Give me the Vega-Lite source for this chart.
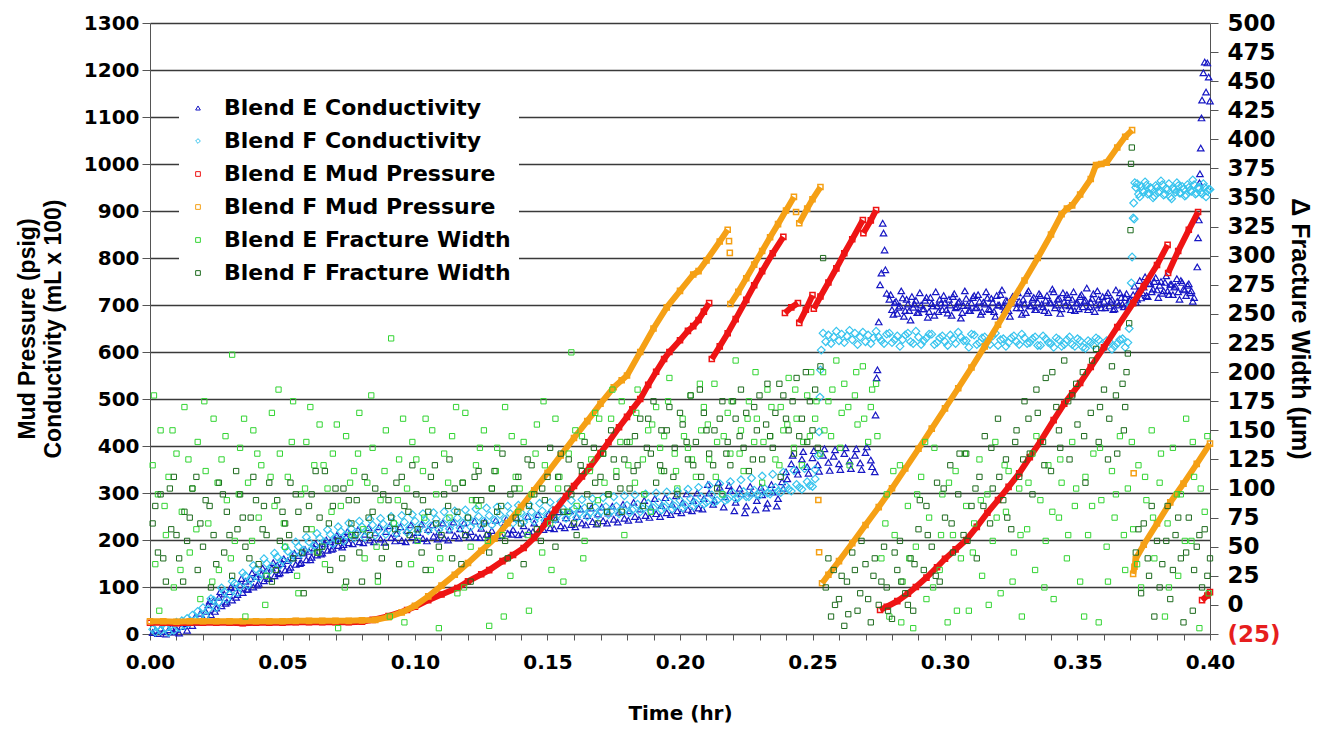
{
  "$schema": "https://vega.github.io/schema/vega-lite/v6.json",
  "width": 1060,
  "height": 611,
  "autosize": "none",
  "padding": {"left": 150, "top": 23, "right": 122, "bottom": 95},
  "background": "white",
  "config": {
    "view": {"stroke": null},
    "point": {"opacity": 1},
    "axis": {
      "labelFont": "DejaVu Sans",
      "labelFontWeight": "bold",
      "labelFontSize": 20,
      "labelColor": "black",
      "titleColor": "black",
      "domainColor": "#555555",
      "tickColor": "#555555",
      "labelOverlap": false,
      "labelBound": false,
      "labelFlush": false
    },
    "legend": {
      "orient": "none",
      "legendX": 29,
      "legendY": 66,
      "fillColor": "white",
      "padding": 8,
      "labelFont": "DejaVu Sans",
      "labelFontWeight": "bold",
      "labelFontSize": 22,
      "labelColor": "black",
      "labelLimit": 400,
      "labelOffset": 15,
      "rowPadding": 11,
      "symbolSize": 22,
      "symbolStrokeWidth": 1,
      "symbolFillColor": "transparent",
      "symbolOpacity": 1
    }
  },
  "datasets": {
    "ec": [
      {"s":"EC","t":0.001,"v":3},{"s":"EC","t":0.002,"v":8},{"s":"EC","t":0.003,"v":1},{"s":"EC","t":0.004,"v":12},{"s":"EC","t":0.005,"v":5},{"s":"EC","t":0.006,"v":0},{"s":"EC","t":0.007,"v":9},{"s":"EC","t":0.008,"v":14},{"s":"EC","t":0.009,"v":4},{"s":"EC","t":0.010,"v":10},{"s":"EC","t":0.011,"v":2},{"s":"EC","t":0.012,"v":16},
      {"s":"EC","t":0.013,"v":22},{"s":"EC","t":0.014,"v":8},{"s":"EC","t":0.015,"v":30},{"s":"EC","t":0.016,"v":18},{"s":"EC","t":0.017,"v":36},{"s":"EC","t":0.018,"v":25},{"s":"EC","t":0.019,"v":44},{"s":"EC","t":0.020,"v":33},
      {"s":"EC","t":0.021,"v":48},{"s":"EC","t":0.022,"v":62},{"s":"EC","t":0.023,"v":41},{"s":"EC","t":0.024,"v":70},{"s":"EC","t":0.025,"v":55},{"s":"EC","t":0.026,"v":78},{"s":"EC","t":0.027,"v":60},{"s":"EC","t":0.028,"v":85},{"s":"EC","t":0.029,"v":68},{"s":"EC","t":0.030,"v":90},{"s":"EC","t":0.031,"v":72},{"s":"EC","t":0.032,"v":98},{"s":"EC","t":0.033,"v":84},{"s":"EC","t":0.034,"v":104},{"s":"EC","t":0.035,"v":88},{"s":"EC","t":0.036,"v":112},{"s":"EC","t":0.037,"v":95},{"s":"EC","t":0.038,"v":118},{"s":"EC","t":0.039,"v":100},{"s":"EC","t":0.040,"v":122},{"s":"EC","t":0.041,"v":108},{"s":"EC","t":0.042,"v":127},{"s":"EC","t":0.043,"v":113},{"s":"EC","t":0.044,"v":135},{"s":"EC","t":0.045,"v":118},{"s":"EC","t":0.046,"v":140},{"s":"EC","t":0.047,"v":124},{"s":"EC","t":0.048,"v":146},{"s":"EC","t":0.049,"v":130},{"s":"EC","t":0.050,"v":150},{"s":"EC","t":0.051,"v":136},{"s":"EC","t":0.052,"v":156},{"s":"EC","t":0.053,"v":142},{"s":"EC","t":0.054,"v":162},{"s":"EC","t":0.055,"v":148},{"s":"EC","t":0.056,"v":167},{"s":"EC","t":0.057,"v":152},{"s":"EC","t":0.058,"v":172},{"s":"EC","t":0.059,"v":158},{"s":"EC","t":0.060,"v":176},{"s":"EC","t":0.061,"v":163},{"s":"EC","t":0.062,"v":183},{"s":"EC","t":0.063,"v":168},{"s":"EC","t":0.064,"v":186},{"s":"EC","t":0.065,"v":172},{"s":"EC","t":0.066,"v":192},{"s":"EC","t":0.067,"v":178},{"s":"EC","t":0.068,"v":196},{"s":"EC","t":0.069,"v":182},{"s":"EC","t":0.070,"v":200},{"s":"EC","t":0.071,"v":188},{"s":"EC","t":0.072,"v":203},{"s":"EC","t":0.073,"v":190},{"s":"EC","t":0.074,"v":206},{"s":"EC","t":0.075,"v":194},
      {"s":"EC","t":0.077,"v":210},{"s":"EC","t":0.079,"v":196},{"s":"EC","t":0.081,"v":212},{"s":"EC","t":0.083,"v":200},{"s":"EC","t":0.085,"v":215},{"s":"EC","t":0.087,"v":202},{"s":"EC","t":0.089,"v":218},{"s":"EC","t":0.091,"v":205},{"s":"EC","t":0.093,"v":214},{"s":"EC","t":0.095,"v":199},{"s":"EC","t":0.097,"v":220},{"s":"EC","t":0.099,"v":207},{"s":"EC","t":0.101,"v":216},{"s":"EC","t":0.103,"v":203},{"s":"EC","t":0.105,"v":222},{"s":"EC","t":0.107,"v":208},{"s":"EC","t":0.109,"v":217},{"s":"EC","t":0.111,"v":204},{"s":"EC","t":0.113,"v":221},{"s":"EC","t":0.115,"v":209},{"s":"EC","t":0.117,"v":224},{"s":"EC","t":0.119,"v":211},{"s":"EC","t":0.121,"v":218},{"s":"EC","t":0.123,"v":206},{"s":"EC","t":0.125,"v":225},{"s":"EC","t":0.127,"v":212},{"s":"EC","t":0.129,"v":220},{"s":"EC","t":0.131,"v":209},{"s":"EC","t":0.133,"v":227},{"s":"EC","t":0.135,"v":214},{"s":"EC","t":0.137,"v":222},{"s":"EC","t":0.139,"v":211},
      {"s":"EC","t":0.141,"v":230},{"s":"EC","t":0.143,"v":218},{"s":"EC","t":0.145,"v":236},{"s":"EC","t":0.147,"v":222},{"s":"EC","t":0.149,"v":240},{"s":"EC","t":0.151,"v":226},{"s":"EC","t":0.153,"v":244},{"s":"EC","t":0.155,"v":230},{"s":"EC","t":0.157,"v":247},{"s":"EC","t":0.159,"v":233},{"s":"EC","t":0.161,"v":250},{"s":"EC","t":0.163,"v":236},{"s":"EC","t":0.165,"v":252},{"s":"EC","t":0.167,"v":239},{"s":"EC","t":0.169,"v":255},{"s":"EC","t":0.171,"v":241},{"s":"EC","t":0.173,"v":257},{"s":"EC","t":0.175,"v":244},{"s":"EC","t":0.177,"v":259},{"s":"EC","t":0.179,"v":246},
      {"s":"EC","t":0.181,"v":262},{"s":"EC","t":0.183,"v":250},{"s":"EC","t":0.185,"v":266},{"s":"EC","t":0.187,"v":252},{"s":"EC","t":0.189,"v":270},{"s":"EC","t":0.191,"v":256},{"s":"EC","t":0.193,"v":273},{"s":"EC","t":0.195,"v":258},{"s":"EC","t":0.197,"v":276},{"s":"EC","t":0.199,"v":262},{"s":"EC","t":0.201,"v":280},{"s":"EC","t":0.203,"v":265},{"s":"EC","t":0.205,"v":284},{"s":"EC","t":0.207,"v":268},{"s":"EC","t":0.209,"v":288},
      {"s":"EC","t":0.211,"v":300},{"s":"EC","t":0.213,"v":285},{"s":"EC","t":0.215,"v":312},{"s":"EC","t":0.217,"v":292},{"s":"EC","t":0.219,"v":305},{"s":"EC","t":0.221,"v":280},{"s":"EC","t":0.223,"v":298},{"s":"EC","t":0.225,"v":272},{"s":"EC","t":0.227,"v":300},{"s":"EC","t":0.229,"v":284},{"s":"EC","t":0.231,"v":296},{"s":"EC","t":0.233,"v":278},{"s":"EC","t":0.235,"v":302},{"s":"EC","t":0.237,"v":288},{"s":"EC","t":0.239,"v":310},{"s":"EC","t":0.240,"v":345},{"s":"EC","t":0.242,"v":362},{"s":"EC","t":0.244,"v":350},{"s":"EC","t":0.246,"v":372},{"s":"EC","t":0.248,"v":356},{"s":"EC","t":0.250,"v":375},{"s":"EC","t":0.252,"v":360},{"s":"EC","t":0.254,"v":380},{"s":"EC","t":0.256,"v":365},{"s":"EC","t":0.258,"v":378},{"s":"EC","t":0.260,"v":362},{"s":"EC","t":0.262,"v":384},{"s":"EC","t":0.264,"v":368},{"s":"EC","t":0.266,"v":380},{"s":"EC","t":0.268,"v":364},{"s":"EC","t":0.270,"v":386},{"s":"EC","t":0.272,"v":370},
      {"s":"EC","t":0.2735,"v":345},{"s":"EC","t":0.2738,"v":466},{"s":"EC","t":0.2742,"v":545},{"s":"EC","t":0.2745,"v":562},{"s":"EC","t":0.275,"v":664},{"s":"EC","t":0.2755,"v":743},{"s":"EC","t":0.276,"v":768},{"s":"EC","t":0.2765,"v":874},{"s":"EC","t":0.2768,"v":853},{"s":"EC","t":0.2772,"v":817},{"s":"EC","t":0.2775,"v":775},{"s":"EC","t":0.278,"v":725},
      {"s":"EC","t":0.279,"v":712},{"s":"EC","t":0.280,"v":690},{"s":"EC","t":0.281,"v":705},{"s":"EC","t":0.282,"v":682},{"s":"EC","t":0.283,"v":698},{"s":"EC","t":0.284,"v":715},{"s":"EC","t":0.285,"v":688},{"s":"EC","t":0.286,"v":702},{"s":"EC","t":0.287,"v":668},{"s":"EC","t":0.288,"v":695},{"s":"EC","t":0.289,"v":710},{"s":"EC","t":0.290,"v":684},{"s":"EC","t":0.291,"v":700},{"s":"EC","t":0.292,"v":692},{"s":"EC","t":0.293,"v":716},{"s":"EC","t":0.294,"v":686},{"s":"EC","t":0.295,"v":703},{"s":"EC","t":0.296,"v":678},{"s":"EC","t":0.297,"v":698},{"s":"EC","t":0.298,"v":712},{"s":"EC","t":0.299,"v":690},{"s":"EC","t":0.300,"v":705},{"s":"EC","t":0.301,"v":683},{"s":"EC","t":0.302,"v":700},{"s":"EC","t":0.303,"v":718},{"s":"EC","t":0.304,"v":694},{"s":"EC","t":0.305,"v":706},{"s":"EC","t":0.306,"v":672},{"s":"EC","t":0.307,"v":699},{"s":"EC","t":0.308,"v":714},{"s":"EC","t":0.309,"v":688},{"s":"EC","t":0.310,"v":704},{"s":"EC","t":0.311,"v":720},{"s":"EC","t":0.312,"v":695},{"s":"EC","t":0.313,"v":708},{"s":"EC","t":0.314,"v":686},{"s":"EC","t":0.315,"v":702},{"s":"EC","t":0.316,"v":715},{"s":"EC","t":0.317,"v":690},{"s":"EC","t":0.318,"v":706},{"s":"EC","t":0.319,"v":676},{"s":"EC","t":0.320,"v":700},{"s":"EC","t":0.321,"v":722},{"s":"EC","t":0.322,"v":697},{"s":"EC","t":0.323,"v":710},{"s":"EC","t":0.324,"v":688},{"s":"EC","t":0.325,"v":705},{"s":"EC","t":0.326,"v":718},{"s":"EC","t":0.327,"v":694},{"s":"EC","t":0.328,"v":708},{"s":"EC","t":0.329,"v":680},{"s":"EC","t":0.330,"v":702},{"s":"EC","t":0.331,"v":725},{"s":"EC","t":0.332,"v":698},{"s":"EC","t":0.333,"v":712},{"s":"EC","t":0.334,"v":690},{"s":"EC","t":0.335,"v":706},{"s":"EC","t":0.336,"v":720},{"s":"EC","t":0.337,"v":696},{"s":"EC","t":0.338,"v":710},{"s":"EC","t":0.339,"v":684},{"s":"EC","t":0.340,"v":704},{"s":"EC","t":0.341,"v":728},{"s":"EC","t":0.342,"v":700},{"s":"EC","t":0.343,"v":714},{"s":"EC","t":0.344,"v":692},{"s":"EC","t":0.345,"v":708},{"s":"EC","t":0.346,"v":722},{"s":"EC","t":0.347,"v":698},{"s":"EC","t":0.348,"v":712},{"s":"EC","t":0.349,"v":688},{"s":"EC","t":0.350,"v":705},{"s":"EC","t":0.351,"v":718},{"s":"EC","t":0.352,"v":696},{"s":"EC","t":0.353,"v":710},{"s":"EC","t":0.354,"v":690},{"s":"EC","t":0.355,"v":706},{"s":"EC","t":0.356,"v":724},{"s":"EC","t":0.357,"v":700},{"s":"EC","t":0.358,"v":712},{"s":"EC","t":0.359,"v":694},{"s":"EC","t":0.360,"v":708},{"s":"EC","t":0.361,"v":720},{"s":"EC","t":0.362,"v":698},{"s":"EC","t":0.363,"v":712},{"s":"EC","t":0.364,"v":692},{"s":"EC","t":0.365,"v":708},{"s":"EC","t":0.366,"v":726},{"s":"EC","t":0.367,"v":702},{"s":"EC","t":0.368,"v":716},{"s":"EC","t":0.369,"v":698},{"s":"EC","t":0.370,"v":712},
      {"s":"EC","t":0.371,"v":722},{"s":"EC","t":0.372,"v":706},{"s":"EC","t":0.373,"v":730},{"s":"EC","t":0.374,"v":715},{"s":"EC","t":0.375,"v":738},{"s":"EC","t":0.376,"v":720},{"s":"EC","t":0.377,"v":745},{"s":"EC","t":0.378,"v":728},{"s":"EC","t":0.379,"v":750},{"s":"EC","t":0.380,"v":732},{"s":"EC","t":0.381,"v":742},{"s":"EC","t":0.382,"v":725},{"s":"EC","t":0.383,"v":748},{"s":"EC","t":0.384,"v":730},{"s":"EC","t":0.385,"v":744},{"s":"EC","t":0.386,"v":722},{"s":"EC","t":0.387,"v":740},{"s":"EC","t":0.388,"v":728},{"s":"EC","t":0.389,"v":752},{"s":"EC","t":0.390,"v":734},{"s":"EC","t":0.391,"v":720},{"s":"EC","t":0.392,"v":745},{"s":"EC","t":0.393,"v":730},{"s":"EC","t":0.394,"v":716},
      {"s":"EC","t":0.3952,"v":781},{"s":"EC","t":0.3955,"v":843},{"s":"EC","t":0.3958,"v":881},{"s":"EC","t":0.396,"v":960},{"s":"EC","t":0.3962,"v":979},{"s":"EC","t":0.3965,"v":1034},{"s":"EC","t":0.3968,"v":1098},{"s":"EC","t":0.397,"v":1136},{"s":"EC","t":0.3975,"v":1194},{"s":"EC","t":0.398,"v":1217},{"s":"EC","t":0.3985,"v":1153},{"s":"EC","t":0.399,"v":1215},{"s":"EC","t":0.3995,"v":1185},{"s":"EC","t":0.400,"v":1134},
      {"s":"EC","t":0.0205,"v":30},{"s":"EC","t":0.0225,"v":70},{"s":"EC","t":0.0245,"v":48},{"s":"EC","t":0.0265,"v":90},{"s":"EC","t":0.0285,"v":65},{"s":"EC","t":0.0305,"v":100},{"s":"EC","t":0.0325,"v":78},{"s":"EC","t":0.0345,"v":118},{"s":"EC","t":0.0365,"v":95},{"s":"EC","t":0.0385,"v":130},{"s":"EC","t":0.0405,"v":104},{"s":"EC","t":0.0425,"v":140},{"s":"EC","t":0.0445,"v":118},{"s":"EC","t":0.0465,"v":152},{"s":"EC","t":0.0485,"v":128},{"s":"EC","t":0.0505,"v":160},{"s":"EC","t":0.0525,"v":137},{"s":"EC","t":0.0545,"v":172},{"s":"EC","t":0.0565,"v":150},{"s":"EC","t":0.0585,"v":180},{"s":"EC","t":0.0605,"v":158},{"s":"EC","t":0.0625,"v":192},{"s":"EC","t":0.0645,"v":170},{"s":"EC","t":0.0665,"v":200},{"s":"EC","t":0.0685,"v":180},{"s":"EC","t":0.0705,"v":210},{"s":"EC","t":0.0725,"v":185},{"s":"EC","t":0.0745,"v":218},{"s":"EC","t":0.0765,"v":192},{"s":"EC","t":0.0785,"v":222},{"s":"EC","t":0.0805,"v":194},{"s":"EC","t":0.0825,"v":226},{"s":"EC","t":0.0845,"v":196},{"s":"EC","t":0.0865,"v":228},{"s":"EC","t":0.0885,"v":195},{"s":"EC","t":0.0905,"v":230},{"s":"EC","t":0.0925,"v":198},{"s":"EC","t":0.0945,"v":228},{"s":"EC","t":0.0965,"v":196},{"s":"EC","t":0.0985,"v":232},
      {"s":"EC","t":0.1005,"v":200},{"s":"EC","t":0.1025,"v":234},{"s":"EC","t":0.1045,"v":198},{"s":"EC","t":0.1065,"v":232},{"s":"EC","t":0.1085,"v":202},{"s":"EC","t":0.1105,"v":236},{"s":"EC","t":0.1125,"v":200},{"s":"EC","t":0.1145,"v":238},{"s":"EC","t":0.1165,"v":204},{"s":"EC","t":0.1185,"v":236},{"s":"EC","t":0.1205,"v":206},{"s":"EC","t":0.1225,"v":240},{"s":"EC","t":0.1245,"v":205},{"s":"EC","t":0.1265,"v":240},{"s":"EC","t":0.1285,"v":208},{"s":"EC","t":0.1305,"v":242},{"s":"EC","t":0.1325,"v":210},{"s":"EC","t":0.1345,"v":244},{"s":"EC","t":0.1365,"v":212},{"s":"EC","t":0.1385,"v":246},{"s":"EC","t":0.1405,"v":214},{"s":"EC","t":0.1425,"v":250},{"s":"EC","t":0.1445,"v":218},{"s":"EC","t":0.1465,"v":254},{"s":"EC","t":0.1485,"v":222},{"s":"EC","t":0.1505,"v":256},{"s":"EC","t":0.1525,"v":224},{"s":"EC","t":0.1545,"v":260},{"s":"EC","t":0.1565,"v":226},{"s":"EC","t":0.1585,"v":262},{"s":"EC","t":0.1605,"v":228},{"s":"EC","t":0.1625,"v":266},{"s":"EC","t":0.1645,"v":232},{"s":"EC","t":0.1665,"v":268},{"s":"EC","t":0.1685,"v":234},{"s":"EC","t":0.1705,"v":270},{"s":"EC","t":0.1725,"v":236},{"s":"EC","t":0.1745,"v":272},{"s":"EC","t":0.1765,"v":238},{"s":"EC","t":0.1785,"v":276},{"s":"EC","t":0.1805,"v":242},{"s":"EC","t":0.1825,"v":280},{"s":"EC","t":0.1845,"v":244},{"s":"EC","t":0.1865,"v":284},{"s":"EC","t":0.1885,"v":248},{"s":"EC","t":0.1905,"v":288},{"s":"EC","t":0.1925,"v":250},{"s":"EC","t":0.1945,"v":290},{"s":"EC","t":0.1965,"v":254},{"s":"EC","t":0.1985,"v":294},
      {"s":"EC","t":0.2005,"v":258},{"s":"EC","t":0.2025,"v":298},{"s":"EC","t":0.2045,"v":262},{"s":"EC","t":0.2065,"v":300},{"s":"EC","t":0.2085,"v":266},{"s":"EC","t":0.2105,"v":318},{"s":"EC","t":0.2125,"v":276},{"s":"EC","t":0.2145,"v":322},{"s":"EC","t":0.2165,"v":270},{"s":"EC","t":0.2185,"v":316},{"s":"EC","t":0.2205,"v":262},{"s":"EC","t":0.2225,"v":310},{"s":"EC","t":0.2245,"v":258},{"s":"EC","t":0.2265,"v":314},{"s":"EC","t":0.2285,"v":264},{"s":"EC","t":0.2305,"v":312},{"s":"EC","t":0.2325,"v":268},{"s":"EC","t":0.2345,"v":318},{"s":"EC","t":0.2365,"v":272},{"s":"EC","t":0.2385,"v":324},{"s":"EC","t":0.2405,"v":330},{"s":"EC","t":0.2425,"v":380},{"s":"EC","t":0.2445,"v":340},{"s":"EC","t":0.2465,"v":388},{"s":"EC","t":0.2485,"v":342},{"s":"EC","t":0.2505,"v":390},{"s":"EC","t":0.2525,"v":346},{"s":"EC","t":0.2545,"v":394},{"s":"EC","t":0.2565,"v":348},{"s":"EC","t":0.2585,"v":392},{"s":"EC","t":0.2605,"v":350},{"s":"EC","t":0.2625,"v":396},{"s":"EC","t":0.2645,"v":352},{"s":"EC","t":0.2665,"v":394},{"s":"EC","t":0.2685,"v":350},{"s":"EC","t":0.2705,"v":398},{"s":"EC","t":0.2725,"v":356},
      {"s":"EC","t":0.2795,"v":722},{"s":"EC","t":0.2805,"v":680},{"s":"EC","t":0.2815,"v":708},{"s":"EC","t":0.2825,"v":695},{"s":"EC","t":0.2835,"v":730},{"s":"EC","t":0.2845,"v":676},{"s":"EC","t":0.2855,"v":712},{"s":"EC","t":0.2865,"v":688},{"s":"EC","t":0.2875,"v":718},{"s":"EC","t":0.2885,"v":702},{"s":"EC","t":0.2895,"v":684},{"s":"EC","t":0.2905,"v":726},{"s":"EC","t":0.2915,"v":692},{"s":"EC","t":0.2925,"v":710},{"s":"EC","t":0.2935,"v":674},{"s":"EC","t":0.2945,"v":716},{"s":"EC","t":0.2955,"v":698},{"s":"EC","t":0.2965,"v":728},{"s":"EC","t":0.2975,"v":686},{"s":"EC","t":0.2985,"v":704},{"s":"EC","t":0.2995,"v":720},{"s":"EC","t":0.3005,"v":690},{"s":"EC","t":0.3015,"v":712},{"s":"EC","t":0.3025,"v":678},{"s":"EC","t":0.3035,"v":724},{"s":"EC","t":0.3045,"v":696},{"s":"EC","t":0.3055,"v":708},{"s":"EC","t":0.3065,"v":684},{"s":"EC","t":0.3075,"v":730},{"s":"EC","t":0.3085,"v":700},{"s":"EC","t":0.3095,"v":688},{"s":"EC","t":0.3105,"v":716},{"s":"EC","t":0.3115,"v":694},{"s":"EC","t":0.3125,"v":722},{"s":"EC","t":0.3135,"v":680},{"s":"EC","t":0.3145,"v":706},{"s":"EC","t":0.3155,"v":728},{"s":"EC","t":0.3165,"v":692},{"s":"EC","t":0.3175,"v":714},{"s":"EC","t":0.3185,"v":686},{"s":"EC","t":0.3195,"v":720},{"s":"EC","t":0.3205,"v":700},{"s":"EC","t":0.3215,"v":732},{"s":"EC","t":0.3225,"v":690},{"s":"EC","t":0.3235,"v":708},{"s":"EC","t":0.3245,"v":676},{"s":"EC","t":0.3255,"v":718},{"s":"EC","t":0.3265,"v":704},{"s":"EC","t":0.3275,"v":726},{"s":"EC","t":0.3285,"v":694},{"s":"EC","t":0.3295,"v":712},{"s":"EC","t":0.3305,"v":684},{"s":"EC","t":0.3315,"v":730},{"s":"EC","t":0.3325,"v":698},{"s":"EC","t":0.3335,"v":716},{"s":"EC","t":0.3345,"v":690},{"s":"EC","t":0.3355,"v":724},{"s":"EC","t":0.3365,"v":702},{"s":"EC","t":0.3375,"v":688},{"s":"EC","t":0.3385,"v":720},{"s":"EC","t":0.3395,"v":706},{"s":"EC","t":0.3405,"v":734},{"s":"EC","t":0.3415,"v":694},{"s":"EC","t":0.3425,"v":712},{"s":"EC","t":0.3435,"v":682},{"s":"EC","t":0.3445,"v":726},{"s":"EC","t":0.3455,"v":700},{"s":"EC","t":0.3465,"v":716},{"s":"EC","t":0.3475,"v":690},{"s":"EC","t":0.3485,"v":728},{"s":"EC","t":0.3495,"v":704},{"s":"EC","t":0.3505,"v":692},{"s":"EC","t":0.3515,"v":722},{"s":"EC","t":0.3525,"v":708},{"s":"EC","t":0.3535,"v":736},{"s":"EC","t":0.3545,"v":696},{"s":"EC","t":0.3555,"v":714},{"s":"EC","t":0.3565,"v":686},{"s":"EC","t":0.3575,"v":730},{"s":"EC","t":0.3585,"v":702},{"s":"EC","t":0.3595,"v":718},{"s":"EC","t":0.3605,"v":694},{"s":"EC","t":0.3615,"v":726},{"s":"EC","t":0.3625,"v":708},{"s":"EC","t":0.3635,"v":690},{"s":"EC","t":0.3645,"v":732},{"s":"EC","t":0.3655,"v":700},{"s":"EC","t":0.3665,"v":716},{"s":"EC","t":0.3675,"v":696},{"s":"EC","t":0.3685,"v":724},{"s":"EC","t":0.3695,"v":710},
      {"s":"EC","t":0.3715,"v":740},{"s":"EC","t":0.3725,"v":712},{"s":"EC","t":0.3735,"v":752},{"s":"EC","t":0.3745,"v":726},{"s":"EC","t":0.3755,"v":760},{"s":"EC","t":0.3765,"v":718},{"s":"EC","t":0.3775,"v":746},{"s":"EC","t":0.3785,"v":734},{"s":"EC","t":0.3795,"v":758},{"s":"EC","t":0.3805,"v":716},{"s":"EC","t":0.3815,"v":750},{"s":"EC","t":0.3825,"v":730},{"s":"EC","t":0.3835,"v":762},{"s":"EC","t":0.3845,"v":722},{"s":"EC","t":0.3855,"v":744},{"s":"EC","t":0.3865,"v":738},{"s":"EC","t":0.3875,"v":756},{"s":"EC","t":0.3885,"v":712},{"s":"EC","t":0.3895,"v":748},{"s":"EC","t":0.3905,"v":732},{"s":"EC","t":0.3915,"v":742},{"s":"EC","t":0.3925,"v":726},{"s":"EC","t":0.3935,"v":708}
    ],
    "fc": [
      {"s":"FC","t":0.001,"v":10},{"s":"FC","t":0.002,"v":4},{"s":"FC","t":0.003,"v":18},{"s":"FC","t":0.004,"v":7},{"s":"FC","t":0.005,"v":22},{"s":"FC","t":0.006,"v":12},{"s":"FC","t":0.007,"v":3},{"s":"FC","t":0.008,"v":19},{"s":"FC","t":0.009,"v":8},{"s":"FC","t":0.010,"v":25},{"s":"FC","t":0.011,"v":14},{"s":"FC","t":0.012,"v":28},{"s":"FC","t":0.013,"v":18},{"s":"FC","t":0.014,"v":33},{"s":"FC","t":0.015,"v":24},
      {"s":"FC","t":0.016,"v":40},{"s":"FC","t":0.017,"v":30},{"s":"FC","t":0.018,"v":48},{"s":"FC","t":0.019,"v":38},{"s":"FC","t":0.020,"v":56},{"s":"FC","t":0.022,"v":52},{"s":"FC","t":0.024,"v":72},{"s":"FC","t":0.026,"v":68},{"s":"FC","t":0.028,"v":90},{"s":"FC","t":0.030,"v":84},{"s":"FC","t":0.032,"v":108},{"s":"FC","t":0.034,"v":100},{"s":"FC","t":0.036,"v":124},{"s":"FC","t":0.038,"v":116},{"s":"FC","t":0.040,"v":138},{"s":"FC","t":0.042,"v":130},{"s":"FC","t":0.044,"v":150},{"s":"FC","t":0.046,"v":144},{"s":"FC","t":0.048,"v":164},{"s":"FC","t":0.050,"v":156},{"s":"FC","t":0.052,"v":176},{"s":"FC","t":0.054,"v":168},{"s":"FC","t":0.056,"v":186},{"s":"FC","t":0.058,"v":178},{"s":"FC","t":0.060,"v":196},{"s":"FC","t":0.062,"v":188},{"s":"FC","t":0.064,"v":204},{"s":"FC","t":0.066,"v":196},{"s":"FC","t":0.068,"v":212},{"s":"FC","t":0.070,"v":204},{"s":"FC","t":0.072,"v":218},{"s":"FC","t":0.074,"v":210},
      {"s":"FC","t":0.076,"v":224},{"s":"FC","t":0.078,"v":214},{"s":"FC","t":0.080,"v":228},{"s":"FC","t":0.082,"v":218},{"s":"FC","t":0.084,"v":232},{"s":"FC","t":0.086,"v":220},{"s":"FC","t":0.088,"v":234},{"s":"FC","t":0.090,"v":223},{"s":"FC","t":0.092,"v":236},{"s":"FC","t":0.094,"v":225},{"s":"FC","t":0.096,"v":238},{"s":"FC","t":0.098,"v":226},{"s":"FC","t":0.100,"v":240},{"s":"FC","t":0.102,"v":228},{"s":"FC","t":0.104,"v":242},{"s":"FC","t":0.106,"v":230},{"s":"FC","t":0.108,"v":244},{"s":"FC","t":0.110,"v":232},{"s":"FC","t":0.112,"v":245},{"s":"FC","t":0.114,"v":234},{"s":"FC","t":0.116,"v":247},{"s":"FC","t":0.118,"v":236},{"s":"FC","t":0.120,"v":248},{"s":"FC","t":0.122,"v":238},{"s":"FC","t":0.124,"v":250},{"s":"FC","t":0.126,"v":240},{"s":"FC","t":0.128,"v":252},{"s":"FC","t":0.130,"v":242},{"s":"FC","t":0.132,"v":254},{"s":"FC","t":0.134,"v":244},{"s":"FC","t":0.136,"v":256},{"s":"FC","t":0.138,"v":246},
      {"s":"FC","t":0.140,"v":258},{"s":"FC","t":0.142,"v":248},{"s":"FC","t":0.144,"v":260},{"s":"FC","t":0.146,"v":250},{"s":"FC","t":0.148,"v":262},{"s":"FC","t":0.150,"v":252},{"s":"FC","t":0.152,"v":264},{"s":"FC","t":0.154,"v":254},{"s":"FC","t":0.156,"v":266},{"s":"FC","t":0.158,"v":256},{"s":"FC","t":0.160,"v":267},{"s":"FC","t":0.162,"v":257},{"s":"FC","t":0.164,"v":268},{"s":"FC","t":0.166,"v":258},{"s":"FC","t":0.168,"v":270},{"s":"FC","t":0.170,"v":260},{"s":"FC","t":0.172,"v":271},{"s":"FC","t":0.174,"v":261},{"s":"FC","t":0.176,"v":272},{"s":"FC","t":0.178,"v":262},{"s":"FC","t":0.180,"v":274},{"s":"FC","t":0.182,"v":264},{"s":"FC","t":0.184,"v":276},{"s":"FC","t":0.186,"v":266},{"s":"FC","t":0.188,"v":278},{"s":"FC","t":0.190,"v":268},{"s":"FC","t":0.192,"v":280},{"s":"FC","t":0.194,"v":270},{"s":"FC","t":0.196,"v":282},{"s":"FC","t":0.198,"v":272},
      {"s":"FC","t":0.200,"v":284},{"s":"FC","t":0.202,"v":274},{"s":"FC","t":0.204,"v":288},{"s":"FC","t":0.206,"v":278},{"s":"FC","t":0.208,"v":292},{"s":"FC","t":0.210,"v":280},{"s":"FC","t":0.212,"v":296},{"s":"FC","t":0.214,"v":284},{"s":"FC","t":0.216,"v":298},{"s":"FC","t":0.218,"v":287},{"s":"FC","t":0.220,"v":300},{"s":"FC","t":0.222,"v":290},{"s":"FC","t":0.224,"v":303},{"s":"FC","t":0.226,"v":292},{"s":"FC","t":0.228,"v":306},{"s":"FC","t":0.230,"v":295},{"s":"FC","t":0.232,"v":309},{"s":"FC","t":0.234,"v":298},{"s":"FC","t":0.236,"v":312},{"s":"FC","t":0.238,"v":301},{"s":"FC","t":0.240,"v":315},{"s":"FC","t":0.242,"v":304},{"s":"FC","t":0.244,"v":318},{"s":"FC","t":0.246,"v":308},{"s":"FC","t":0.248,"v":324},{"s":"FC","t":0.250,"v":314},{"s":"FC","t":0.251,"v":330},
      {"s":"FC","t":0.2522,"v":380},{"s":"FC","t":0.2525,"v":430},{"s":"FC","t":0.2528,"v":504},{"s":"FC","t":0.253,"v":562},{"s":"FC","t":0.2533,"v":604},
      {"s":"FC","t":0.254,"v":640},{"s":"FC","t":0.255,"v":622},{"s":"FC","t":0.256,"v":636},{"s":"FC","t":0.257,"v":618},{"s":"FC","t":0.258,"v":632},{"s":"FC","t":0.259,"v":644},{"s":"FC","t":0.260,"v":624},{"s":"FC","t":0.261,"v":638},{"s":"FC","t":0.262,"v":620},{"s":"FC","t":0.263,"v":634},{"s":"FC","t":0.264,"v":646},{"s":"FC","t":0.265,"v":626},{"s":"FC","t":0.266,"v":640},{"s":"FC","t":0.267,"v":616},{"s":"FC","t":0.268,"v":632},{"s":"FC","t":0.269,"v":642},{"s":"FC","t":0.270,"v":622},{"s":"FC","t":0.271,"v":636},{"s":"FC","t":0.272,"v":618},{"s":"FC","t":0.273,"v":630},{"s":"FC","t":0.274,"v":644},{"s":"FC","t":0.276,"v":624},{"s":"FC","t":0.278,"v":638},{"s":"FC","t":0.280,"v":620},{"s":"FC","t":0.282,"v":634},{"s":"FC","t":0.284,"v":626},{"s":"FC","t":0.286,"v":640},{"s":"FC","t":0.288,"v":618},{"s":"FC","t":0.290,"v":632},{"s":"FC","t":0.292,"v":624},{"s":"FC","t":0.294,"v":638},{"s":"FC","t":0.296,"v":616},{"s":"FC","t":0.298,"v":630},{"s":"FC","t":0.300,"v":622},{"s":"FC","t":0.302,"v":636},{"s":"FC","t":0.304,"v":618},{"s":"FC","t":0.306,"v":632},{"s":"FC","t":0.308,"v":624},{"s":"FC","t":0.310,"v":638},{"s":"FC","t":0.312,"v":616},{"s":"FC","t":0.314,"v":630},{"s":"FC","t":0.316,"v":622},{"s":"FC","t":0.318,"v":634},{"s":"FC","t":0.320,"v":614},{"s":"FC","t":0.322,"v":628},{"s":"FC","t":0.324,"v":620},{"s":"FC","t":0.326,"v":634},{"s":"FC","t":0.328,"v":616},{"s":"FC","t":0.330,"v":630},{"s":"FC","t":0.332,"v":620},{"s":"FC","t":0.334,"v":632},{"s":"FC","t":0.336,"v":614},{"s":"FC","t":0.338,"v":628},{"s":"FC","t":0.340,"v":618},{"s":"FC","t":0.342,"v":630},{"s":"FC","t":0.344,"v":612},{"s":"FC","t":0.346,"v":626},{"s":"FC","t":0.348,"v":616},{"s":"FC","t":0.350,"v":628},{"s":"FC","t":0.352,"v":610},{"s":"FC","t":0.354,"v":624},{"s":"FC","t":0.356,"v":614},{"s":"FC","t":0.358,"v":626},{"s":"FC","t":0.360,"v":608},{"s":"FC","t":0.362,"v":622},{"s":"FC","t":0.364,"v":612},{"s":"FC","t":0.366,"v":626},{"s":"FC","t":0.368,"v":610},{"s":"FC","t":0.369,"v":620},
      {"s":"FC","t":0.3695,"v":650},{"s":"FC","t":0.370,"v":700},{"s":"FC","t":0.3703,"v":747},{"s":"FC","t":0.3706,"v":802},{"s":"FC","t":0.371,"v":885},{"s":"FC","t":0.3712,"v":917},{"s":"FC","t":0.3714,"v":883},{"s":"FC","t":0.3716,"v":960},
      {"s":"FC","t":0.372,"v":950},{"s":"FC","t":0.373,"v":936},{"s":"FC","t":0.374,"v":952},{"s":"FC","t":0.375,"v":940},{"s":"FC","t":0.376,"v":955},{"s":"FC","t":0.377,"v":938},{"s":"FC","t":0.378,"v":948},{"s":"FC","t":0.379,"v":932},{"s":"FC","t":0.380,"v":950},{"s":"FC","t":0.381,"v":942},{"s":"FC","t":0.382,"v":956},{"s":"FC","t":0.383,"v":936},{"s":"FC","t":0.384,"v":946},{"s":"FC","t":0.385,"v":930},{"s":"FC","t":0.386,"v":948},{"s":"FC","t":0.387,"v":940},{"s":"FC","t":0.388,"v":954},{"s":"FC","t":0.389,"v":938},{"s":"FC","t":0.390,"v":946},{"s":"FC","t":0.391,"v":934},{"s":"FC","t":0.392,"v":950},{"s":"FC","t":0.393,"v":942},{"s":"FC","t":0.394,"v":956},{"s":"FC","t":0.395,"v":938},{"s":"FC","t":0.396,"v":948},{"s":"FC","t":0.397,"v":936},{"s":"FC","t":0.398,"v":950},{"s":"FC","t":0.399,"v":942},{"s":"FC","t":0.400,"v":946},
      {"s":"FC","t":0.0210,"v":38},{"s":"FC","t":0.0230,"v":75},{"s":"FC","t":0.0250,"v":56},{"s":"FC","t":0.0270,"v":98},{"s":"FC","t":0.0290,"v":74},{"s":"FC","t":0.0310,"v":112},{"s":"FC","t":0.0330,"v":88},{"s":"FC","t":0.0350,"v":130},{"s":"FC","t":0.0370,"v":104},{"s":"FC","t":0.0390,"v":146},{"s":"FC","t":0.0410,"v":120},{"s":"FC","t":0.0430,"v":160},{"s":"FC","t":0.0450,"v":134},{"s":"FC","t":0.0470,"v":172},{"s":"FC","t":0.0490,"v":146},{"s":"FC","t":0.0510,"v":184},{"s":"FC","t":0.0530,"v":158},{"s":"FC","t":0.0550,"v":196},{"s":"FC","t":0.0570,"v":170},{"s":"FC","t":0.0590,"v":206},{"s":"FC","t":0.0610,"v":180},{"s":"FC","t":0.0630,"v":214},{"s":"FC","t":0.0650,"v":186},{"s":"FC","t":0.0670,"v":222},{"s":"FC","t":0.0690,"v":192},{"s":"FC","t":0.0710,"v":228},{"s":"FC","t":0.0730,"v":198},{"s":"FC","t":0.0750,"v":236},{"s":"FC","t":0.0770,"v":204},{"s":"FC","t":0.0790,"v":240},{"s":"FC","t":0.0810,"v":206},{"s":"FC","t":0.0830,"v":244},{"s":"FC","t":0.0850,"v":210},{"s":"FC","t":0.0870,"v":246},{"s":"FC","t":0.0890,"v":212},{"s":"FC","t":0.0910,"v":250},{"s":"FC","t":0.0930,"v":214},{"s":"FC","t":0.0950,"v":252},{"s":"FC","t":0.0970,"v":216},{"s":"FC","t":0.0990,"v":254},
      {"s":"FC","t":0.1010,"v":218},{"s":"FC","t":0.1030,"v":256},{"s":"FC","t":0.1050,"v":220},{"s":"FC","t":0.1070,"v":258},{"s":"FC","t":0.1090,"v":222},{"s":"FC","t":0.1110,"v":260},{"s":"FC","t":0.1130,"v":224},{"s":"FC","t":0.1150,"v":262},{"s":"FC","t":0.1170,"v":226},{"s":"FC","t":0.1190,"v":264},{"s":"FC","t":0.1210,"v":228},{"s":"FC","t":0.1230,"v":266},{"s":"FC","t":0.1250,"v":230},{"s":"FC","t":0.1270,"v":268},{"s":"FC","t":0.1290,"v":232},{"s":"FC","t":0.1310,"v":270},{"s":"FC","t":0.1330,"v":234},{"s":"FC","t":0.1350,"v":272},{"s":"FC","t":0.1370,"v":236},{"s":"FC","t":0.1390,"v":274},{"s":"FC","t":0.1410,"v":238},{"s":"FC","t":0.1430,"v":276},{"s":"FC","t":0.1450,"v":240},{"s":"FC","t":0.1470,"v":278},{"s":"FC","t":0.1490,"v":242},{"s":"FC","t":0.1510,"v":280},{"s":"FC","t":0.1530,"v":244},{"s":"FC","t":0.1550,"v":282},{"s":"FC","t":0.1570,"v":246},{"s":"FC","t":0.1590,"v":284},{"s":"FC","t":0.1610,"v":248},{"s":"FC","t":0.1630,"v":286},{"s":"FC","t":0.1650,"v":250},{"s":"FC","t":0.1670,"v":288},{"s":"FC","t":0.1690,"v":252},{"s":"FC","t":0.1710,"v":290},{"s":"FC","t":0.1730,"v":254},{"s":"FC","t":0.1750,"v":292},{"s":"FC","t":0.1770,"v":256},{"s":"FC","t":0.1790,"v":294},
      {"s":"FC","t":0.1810,"v":258},{"s":"FC","t":0.1830,"v":296},{"s":"FC","t":0.1850,"v":260},{"s":"FC","t":0.1870,"v":298},{"s":"FC","t":0.1890,"v":262},{"s":"FC","t":0.1910,"v":300},{"s":"FC","t":0.1930,"v":264},{"s":"FC","t":0.1950,"v":302},{"s":"FC","t":0.1970,"v":266},{"s":"FC","t":0.1990,"v":304},{"s":"FC","t":0.2010,"v":268},{"s":"FC","t":0.2030,"v":308},{"s":"FC","t":0.2050,"v":272},{"s":"FC","t":0.2070,"v":312},{"s":"FC","t":0.2090,"v":276},{"s":"FC","t":0.2110,"v":316},{"s":"FC","t":0.2130,"v":280},{"s":"FC","t":0.2150,"v":320},{"s":"FC","t":0.2170,"v":284},{"s":"FC","t":0.2190,"v":324},{"s":"FC","t":0.2210,"v":288},{"s":"FC","t":0.2230,"v":328},{"s":"FC","t":0.2250,"v":292},{"s":"FC","t":0.2270,"v":332},{"s":"FC","t":0.2290,"v":296},{"s":"FC","t":0.2310,"v":336},{"s":"FC","t":0.2330,"v":300},{"s":"FC","t":0.2350,"v":340},{"s":"FC","t":0.2370,"v":304},{"s":"FC","t":0.2390,"v":344},{"s":"FC","t":0.2410,"v":308},{"s":"FC","t":0.2430,"v":348},{"s":"FC","t":0.2450,"v":312},{"s":"FC","t":0.2470,"v":352},{"s":"FC","t":0.2490,"v":316},{"s":"FC","t":0.2510,"v":350},
      {"s":"FC","t":0.275,"v":632},{"s":"FC","t":0.277,"v":618},{"s":"FC","t":0.279,"v":640},{"s":"FC","t":0.281,"v":626},{"s":"FC","t":0.283,"v":612},{"s":"FC","t":0.285,"v":636},{"s":"FC","t":0.287,"v":622},{"s":"FC","t":0.289,"v":644},{"s":"FC","t":0.291,"v":616},{"s":"FC","t":0.293,"v":630},{"s":"FC","t":0.295,"v":638},{"s":"FC","t":0.297,"v":620},{"s":"FC","t":0.299,"v":634},{"s":"FC","t":0.301,"v":614},{"s":"FC","t":0.303,"v":628},{"s":"FC","t":0.305,"v":642},{"s":"FC","t":0.307,"v":624},{"s":"FC","t":0.309,"v":610},{"s":"FC","t":0.311,"v":636},{"s":"FC","t":0.313,"v":620},{"s":"FC","t":0.315,"v":632},{"s":"FC","t":0.317,"v":616},{"s":"FC","t":0.319,"v":640},{"s":"FC","t":0.321,"v":626},{"s":"FC","t":0.323,"v":612},{"s":"FC","t":0.325,"v":630},{"s":"FC","t":0.327,"v":622},{"s":"FC","t":0.329,"v":638},{"s":"FC","t":0.331,"v":618},{"s":"FC","t":0.333,"v":628},{"s":"FC","t":0.335,"v":614},{"s":"FC","t":0.337,"v":634},{"s":"FC","t":0.339,"v":620},{"s":"FC","t":0.341,"v":610},{"s":"FC","t":0.343,"v":626},{"s":"FC","t":0.345,"v":616},{"s":"FC","t":0.347,"v":632},{"s":"FC","t":0.349,"v":612},{"s":"FC","t":0.351,"v":624},{"s":"FC","t":0.353,"v":608},{"s":"FC","t":0.355,"v":620},{"s":"FC","t":0.357,"v":630},{"s":"FC","t":0.359,"v":614},{"s":"FC","t":0.361,"v":624},{"s":"FC","t":0.363,"v":606},{"s":"FC","t":0.365,"v":618},{"s":"FC","t":0.367,"v":628},
      {"s":"FC","t":0.3725,"v":958},{"s":"FC","t":0.3735,"v":930},{"s":"FC","t":0.3745,"v":944},{"s":"FC","t":0.3755,"v":962},{"s":"FC","t":0.3765,"v":936},{"s":"FC","t":0.3775,"v":950},{"s":"FC","t":0.3785,"v":928},{"s":"FC","t":0.3795,"v":954},{"s":"FC","t":0.3805,"v":940},{"s":"FC","t":0.3815,"v":964},{"s":"FC","t":0.3825,"v":934},{"s":"FC","t":0.3835,"v":948},{"s":"FC","t":0.3845,"v":958},{"s":"FC","t":0.3855,"v":926},{"s":"FC","t":0.3865,"v":946},{"s":"FC","t":0.3875,"v":960},{"s":"FC","t":0.3885,"v":938},{"s":"FC","t":0.3895,"v":952},{"s":"FC","t":0.3905,"v":932},{"s":"FC","t":0.3915,"v":956},{"s":"FC","t":0.3925,"v":944},{"s":"FC","t":0.3935,"v":966},{"s":"FC","t":0.3945,"v":936},{"s":"FC","t":0.3955,"v":950},{"s":"FC","t":0.3965,"v":940},{"s":"FC","t":0.3975,"v":958},{"s":"FC","t":0.3985,"v":930},{"s":"FC","t":0.3995,"v":946}
    ],
    "ep": [
      {"s":"EP","g":1,"t":0.000,"v":24},{"s":"EP","g":1,"t":0.005,"v":24},{"s":"EP","g":1,"t":0.010,"v":23},{"s":"EP","g":1,"t":0.015,"v":24},{"s":"EP","g":1,"t":0.020,"v":24},{"s":"EP","g":1,"t":0.025,"v":24},{"s":"EP","g":1,"t":0.030,"v":24},{"s":"EP","g":1,"t":0.035,"v":23},{"s":"EP","g":1,"t":0.040,"v":24},{"s":"EP","g":1,"t":0.045,"v":24},{"s":"EP","g":1,"t":0.050,"v":24},{"s":"EP","g":1,"t":0.055,"v":25},{"s":"EP","g":1,"t":0.060,"v":25},{"s":"EP","g":1,"t":0.065,"v":25},{"s":"EP","g":1,"t":0.070,"v":25},{"s":"EP","g":1,"t":0.075,"v":25},{"s":"EP","g":1,"t":0.080,"v":26},{"s":"EP","g":1,"t":0.084,"v":30},{"s":"EP","g":1,"t":0.090,"v":38},{"s":"EP","g":1,"t":0.097,"v":51},{"s":"EP","g":1,"t":0.100,"v":58},{"s":"EP","g":1,"t":0.105,"v":72},{"s":"EP","g":1,"t":0.110,"v":84},{"s":"EP","g":1,"t":0.116,"v":98},{"s":"EP","g":1,"t":0.120,"v":112},{"s":"EP","g":1,"t":0.125,"v":127},{"s":"EP","g":1,"t":0.128,"v":136},{"s":"EP","g":1,"t":0.133,"v":155},{"s":"EP","g":1,"t":0.137,"v":168},{"s":"EP","g":1,"t":0.141,"v":183},{"s":"EP","g":1,"t":0.145,"v":205},{"s":"EP","g":1,"t":0.150,"v":240},{"s":"EP","g":1,"t":0.153,"v":264},{"s":"EP","g":1,"t":0.157,"v":293},{"s":"EP","g":1,"t":0.160,"v":315},{"s":"EP","g":1,"t":0.163,"v":335},{"s":"EP","g":1,"t":0.166,"v":355},{"s":"EP","g":1,"t":0.170,"v":385},{"s":"EP","g":1,"t":0.173,"v":408},{"s":"EP","g":1,"t":0.177,"v":440},{"s":"EP","g":1,"t":0.180,"v":462},{"s":"EP","g":1,"t":0.182,"v":478},{"s":"EP","g":1,"t":0.185,"v":500},{"s":"EP","g":1,"t":0.188,"v":530},{"s":"EP","g":1,"t":0.191,"v":558},{"s":"EP","g":1,"t":0.194,"v":585},{"s":"EP","g":1,"t":0.196,"v":600},{"s":"EP","g":1,"t":0.200,"v":625},{"s":"EP","g":1,"t":0.203,"v":645},{"s":"EP","g":1,"t":0.205,"v":655},{"s":"EP","g":1,"t":0.207,"v":668},{"s":"EP","g":1,"t":0.209,"v":686},{"s":"EP","g":1,"t":0.211,"v":704},
      {"s":"EP","g":2,"t":0.212,"v":585},{"s":"EP","g":2,"t":0.215,"v":612},{"s":"EP","g":2,"t":0.218,"v":640},{"s":"EP","g":2,"t":0.221,"v":670},{"s":"EP","g":2,"t":0.225,"v":711},{"s":"EP","g":2,"t":0.228,"v":742},{"s":"EP","g":2,"t":0.231,"v":772},{"s":"EP","g":2,"t":0.235,"v":810},{"s":"EP","g":2,"t":0.239,"v":845},
      {"s":"EP","g":3,"t":0.2396,"v":683},{"s":"EP","g":3,"t":0.242,"v":695},{"s":"EP","g":3,"t":0.2445,"v":704},
      {"s":"EP","g":4,"t":0.245,"v":662},{"s":"EP","g":4,"t":0.2475,"v":690},{"s":"EP","g":4,"t":0.250,"v":721},
      {"s":"EP","g":5,"t":0.2505,"v":692},{"s":"EP","g":5,"t":0.253,"v":718},{"s":"EP","g":5,"t":0.256,"v":748},{"s":"EP","g":5,"t":0.259,"v":778},{"s":"EP","g":5,"t":0.262,"v":810},{"s":"EP","g":5,"t":0.265,"v":840},{"s":"EP","g":5,"t":0.269,"v":881},
      {"s":"EP","g":6,"t":0.2692,"v":853},{"s":"EP","g":6,"t":0.272,"v":880},{"s":"EP","g":6,"t":0.274,"v":902},
      {"s":"EP","g":7,"t":0.2755,"v":51},{"s":"EP","g":7,"t":0.278,"v":58},{"s":"EP","g":7,"t":0.282,"v":70},{"s":"EP","g":7,"t":0.286,"v":86},{"s":"EP","g":7,"t":0.289,"v":100},{"s":"EP","g":7,"t":0.293,"v":120},{"s":"EP","g":7,"t":0.297,"v":142},{"s":"EP","g":7,"t":0.300,"v":160},{"s":"EP","g":7,"t":0.304,"v":180},{"s":"EP","g":7,"t":0.308,"v":200},{"s":"EP","g":7,"t":0.312,"v":228},{"s":"EP","g":7,"t":0.316,"v":258},{"s":"EP","g":7,"t":0.320,"v":285},{"s":"EP","g":7,"t":0.324,"v":313},{"s":"EP","g":7,"t":0.328,"v":342},{"s":"EP","g":7,"t":0.332,"v":376},{"s":"EP","g":7,"t":0.336,"v":410},{"s":"EP","g":7,"t":0.341,"v":455},{"s":"EP","g":7,"t":0.345,"v":490},{"s":"EP","g":7,"t":0.348,"v":512},{"s":"EP","g":7,"t":0.351,"v":534},{"s":"EP","g":7,"t":0.355,"v":568},{"s":"EP","g":7,"t":0.360,"v":610},{"s":"EP","g":7,"t":0.365,"v":653},{"s":"EP","g":7,"t":0.371,"v":704},{"s":"EP","g":7,"t":0.375,"v":740},{"s":"EP","g":7,"t":0.380,"v":785},{"s":"EP","g":7,"t":0.384,"v":828},
      {"s":"EP","g":8,"t":0.3842,"v":768},{"s":"EP","g":8,"t":0.388,"v":815},{"s":"EP","g":8,"t":0.392,"v":860},{"s":"EP","g":8,"t":0.3955,"v":898},
      {"s":"EP","g":9,"t":0.397,"v":72},{"s":"EP","g":9,"t":0.399,"v":82},{"s":"EP","g":9,"t":0.400,"v":89}
    ],
    "fp": [
      {"s":"FP","g":1,"t":0.000,"v":27},{"s":"FP","g":1,"t":0.005,"v":27},{"s":"FP","g":1,"t":0.010,"v":26},{"s":"FP","g":1,"t":0.015,"v":27},{"s":"FP","g":1,"t":0.020,"v":27},{"s":"FP","g":1,"t":0.025,"v":27},{"s":"FP","g":1,"t":0.030,"v":27},{"s":"FP","g":1,"t":0.035,"v":27},{"s":"FP","g":1,"t":0.040,"v":27},{"s":"FP","g":1,"t":0.045,"v":27},{"s":"FP","g":1,"t":0.050,"v":27},{"s":"FP","g":1,"t":0.055,"v":28},{"s":"FP","g":1,"t":0.060,"v":28},{"s":"FP","g":1,"t":0.065,"v":28},{"s":"FP","g":1,"t":0.070,"v":28},{"s":"FP","g":1,"t":0.075,"v":28},{"s":"FP","g":1,"t":0.080,"v":29},{"s":"FP","g":1,"t":0.085,"v":30},{"s":"FP","g":1,"t":0.090,"v":36},{"s":"FP","g":1,"t":0.095,"v":46},{"s":"FP","g":1,"t":0.100,"v":60},{"s":"FP","g":1,"t":0.105,"v":80},{"s":"FP","g":1,"t":0.110,"v":103},{"s":"FP","g":1,"t":0.115,"v":126},{"s":"FP","g":1,"t":0.120,"v":151},{"s":"FP","g":1,"t":0.125,"v":177},{"s":"FP","g":1,"t":0.130,"v":203},{"s":"FP","g":1,"t":0.135,"v":236},{"s":"FP","g":1,"t":0.140,"v":270},{"s":"FP","g":1,"t":0.145,"v":306},{"s":"FP","g":1,"t":0.150,"v":343},{"s":"FP","g":1,"t":0.155,"v":380},{"s":"FP","g":1,"t":0.160,"v":417},{"s":"FP","g":1,"t":0.165,"v":453},{"s":"FP","g":1,"t":0.170,"v":490},{"s":"FP","g":1,"t":0.175,"v":525},{"s":"FP","g":1,"t":0.178,"v":540},{"s":"FP","g":1,"t":0.180,"v":550},{"s":"FP","g":1,"t":0.185,"v":600},{"s":"FP","g":1,"t":0.190,"v":650},{"s":"FP","g":1,"t":0.195,"v":695},{"s":"FP","g":1,"t":0.200,"v":730},{"s":"FP","g":1,"t":0.205,"v":765},{"s":"FP","g":1,"t":0.207,"v":772},{"s":"FP","g":1,"t":0.210,"v":795},{"s":"FP","g":1,"t":0.215,"v":835},{"s":"FP","g":1,"t":0.218,"v":860},
      {"s":"FP","g":2,"t":0.2185,"v":836},{"s":"FP","g":3,"t":0.2188,"v":811},
      {"s":"FP","g":4,"t":0.219,"v":702},{"s":"FP","g":4,"t":0.222,"v":728},{"s":"FP","g":4,"t":0.225,"v":757},{"s":"FP","g":4,"t":0.228,"v":786},{"s":"FP","g":4,"t":0.231,"v":815},{"s":"FP","g":4,"t":0.234,"v":844},{"s":"FP","g":4,"t":0.237,"v":872},{"s":"FP","g":4,"t":0.240,"v":901},{"s":"FP","g":4,"t":0.243,"v":930},
      {"s":"FP","g":5,"t":0.2438,"v":898},
      {"s":"FP","g":6,"t":0.245,"v":874},{"s":"FP","g":6,"t":0.248,"v":905},{"s":"FP","g":6,"t":0.250,"v":925},{"s":"FP","g":6,"t":0.253,"v":951},
      {"s":"FP","g":7,"t":0.2536,"v":108},{"s":"FP","g":7,"t":0.256,"v":126},{"s":"FP","g":7,"t":0.260,"v":155},{"s":"FP","g":7,"t":0.265,"v":193},{"s":"FP","g":7,"t":0.270,"v":232},{"s":"FP","g":7,"t":0.275,"v":270},{"s":"FP","g":7,"t":0.280,"v":310},{"s":"FP","g":7,"t":0.285,"v":352},{"s":"FP","g":7,"t":0.290,"v":394},{"s":"FP","g":7,"t":0.295,"v":437},{"s":"FP","g":7,"t":0.300,"v":480},{"s":"FP","g":7,"t":0.305,"v":523},{"s":"FP","g":7,"t":0.310,"v":567},{"s":"FP","g":7,"t":0.315,"v":612},{"s":"FP","g":7,"t":0.320,"v":658},{"s":"FP","g":7,"t":0.325,"v":705},{"s":"FP","g":7,"t":0.330,"v":752},{"s":"FP","g":7,"t":0.335,"v":800},{"s":"FP","g":7,"t":0.340,"v":850},{"s":"FP","g":7,"t":0.344,"v":893},{"s":"FP","g":7,"t":0.346,"v":905},{"s":"FP","g":7,"t":0.348,"v":912},{"s":"FP","g":7,"t":0.351,"v":935},{"s":"FP","g":7,"t":0.355,"v":968},{"s":"FP","g":7,"t":0.357,"v":998},{"s":"FP","g":7,"t":0.359,"v":1000},{"s":"FP","g":7,"t":0.361,"v":1003},{"s":"FP","g":7,"t":0.365,"v":1035},{"s":"FP","g":7,"t":0.368,"v":1058},{"s":"FP","g":7,"t":0.3706,"v":1072},
      {"s":"FP","g":8,"t":0.371,"v":128},{"s":"FP","g":8,"t":0.3715,"v":143},{"s":"FP","g":8,"t":0.372,"v":160},{"s":"FP","g":8,"t":0.375,"v":190},{"s":"FP","g":8,"t":0.380,"v":235},{"s":"FP","g":8,"t":0.385,"v":280},{"s":"FP","g":8,"t":0.390,"v":320},{"s":"FP","g":8,"t":0.395,"v":362},{"s":"FP","g":8,"t":0.400,"v":405},
      {"s":"FP","g":9,"t":0.2525,"v":174},{"s":"FP","g":10,"t":0.2522,"v":285},{"s":"FP","g":11,"t":0.3712,"v":342}
    ],
    "ew": [
      {"s":"EW","t":0.001,"v":120},{"s":"EW","t":0.002,"v":35},{"s":"EW","t":0.003,"v":95},{"s":"EW","t":0.004,"v":150},{"s":"EW","t":0.006,"v":60},{"s":"EW","t":0.007,"v":110},{"s":"EW","t":0.009,"v":15},{"s":"EW","t":0.010,"v":130},{"s":"EW","t":0.012,"v":80},{"s":"EW","t":0.013,"v":170},{"s":"EW","t":0.015,"v":45},{"s":"EW","t":0.016,"v":100},{"s":"EW","t":0.018,"v":140},{"s":"EW","t":0.019,"v":5},{"s":"EW","t":0.021,"v":115},{"s":"EW","t":0.022,"v":70},{"s":"EW","t":0.024,"v":160},{"s":"EW","t":0.026,"v":30},{"s":"EW","t":0.027,"v":125},{"s":"EW","t":0.029,"v":90},{"s":"EW","t":0.031,"v":215},{"s":"EW","t":0.032,"v":55},{"s":"EW","t":0.034,"v":135},{"s":"EW","t":0.036,"v":-10},{"s":"EW","t":0.037,"v":105},{"s":"EW","t":0.039,"v":150},{"s":"EW","t":0.041,"v":75},{"s":"EW","t":0.042,"v":120},{"s":"EW","t":0.044,"v":25},{"s":"EW","t":0.046,"v":165},{"s":"EW","t":0.047,"v":85},{"s":"EW","t":0.049,"v":130},{"s":"EW","t":0.051,"v":50},{"s":"EW","t":0.052,"v":110},{"s":"EW","t":0.054,"v":175},{"s":"EW","t":0.056,"v":10},{"s":"EW","t":0.057,"v":95},{"s":"EW","t":0.059,"v":140},{"s":"EW","t":0.061,"v":65},{"s":"EW","t":0.062,"v":120},{"s":"EW","t":0.064,"v":155},{"s":"EW","t":0.066,"v":35},{"s":"EW","t":0.067,"v":100},{"s":"EW","t":0.069,"v":130},{"s":"EW","t":0.071,"v":-20},{"s":"EW","t":0.072,"v":85},{"s":"EW","t":0.074,"v":145},{"s":"EW","t":0.076,"v":60},{"s":"EW","t":0.077,"v":115},{"s":"EW","t":0.079,"v":165},{"s":"EW","t":0.081,"v":40},{"s":"EW","t":0.082,"v":105},{"s":"EW","t":0.084,"v":135},{"s":"EW","t":0.086,"v":20},{"s":"EW","t":0.087,"v":90},{"s":"EW","t":0.089,"v":150},{"s":"EW","t":0.091,"v":229},{"s":"EW","t":0.092,"v":70},{"s":"EW","t":0.094,"v":125},{"s":"EW","t":0.096,"v":-15},{"s":"EW","t":0.097,"v":100},{"s":"EW","t":0.099,"v":140},
      {"s":"EW","t":0.101,"v":55},{"s":"EW","t":0.103,"v":115},{"s":"EW","t":0.104,"v":160},{"s":"EW","t":0.106,"v":30},{"s":"EW","t":0.108,"v":95},{"s":"EW","t":0.109,"v":-20},{"s":"EW","t":0.111,"v":130},{"s":"EW","t":0.113,"v":75},{"s":"EW","t":0.114,"v":145},{"s":"EW","t":0.116,"v":10},{"s":"EW","t":0.118,"v":105},{"s":"EW","t":0.119,"v":165},{"s":"EW","t":0.121,"v":50},{"s":"EW","t":0.123,"v":120},{"s":"EW","t":0.124,"v":85},{"s":"EW","t":0.126,"v":150},{"s":"EW","t":0.128,"v":-18},{"s":"EW","t":0.129,"v":100},{"s":"EW","t":0.131,"v":135},{"s":"EW","t":0.133,"v":60},{"s":"EW","t":0.134,"v":170},{"s":"EW","t":0.136,"v":25},{"s":"EW","t":0.138,"v":110},{"s":"EW","t":0.139,"v":80},{"s":"EW","t":0.141,"v":140},{"s":"EW","t":0.143,"v":-5},{"s":"EW","t":0.144,"v":95},{"s":"EW","t":0.146,"v":155},{"s":"EW","t":0.148,"v":45},{"s":"EW","t":0.149,"v":120},{"s":"EW","t":0.151,"v":70},{"s":"EW","t":0.153,"v":160},{"s":"EW","t":0.154,"v":100},{"s":"EW","t":0.156,"v":20},{"s":"EW","t":0.158,"v":130},{"s":"EW","t":0.159,"v":217},{"s":"EW","t":0.161,"v":85},{"s":"EW","t":0.163,"v":145},{"s":"EW","t":0.164,"v":55},{"s":"EW","t":0.166,"v":115},{"s":"EW","t":0.168,"v":165},{"s":"EW","t":0.169,"v":90},
      {"s":"EW","t":0.171,"v":130},{"s":"EW","t":0.173,"v":95},{"s":"EW","t":0.174,"v":160},{"s":"EW","t":0.176,"v":115},{"s":"EW","t":0.178,"v":175},{"s":"EW","t":0.179,"v":60},{"s":"EW","t":0.181,"v":140},{"s":"EW","t":0.183,"v":105},{"s":"EW","t":0.184,"v":185},{"s":"EW","t":0.186,"v":125},{"s":"EW","t":0.188,"v":150},{"s":"EW","t":0.189,"v":80},{"s":"EW","t":0.191,"v":170},{"s":"EW","t":0.193,"v":115},{"s":"EW","t":0.194,"v":145},{"s":"EW","t":0.196,"v":195},{"s":"EW","t":0.198,"v":130},{"s":"EW","t":0.199,"v":100},{"s":"EW","t":0.201,"v":160},{"s":"EW","t":0.203,"v":135},{"s":"EW","t":0.204,"v":180},{"s":"EW","t":0.206,"v":110},{"s":"EW","t":0.208,"v":150},{"s":"EW","t":0.209,"v":170},{"s":"EW","t":0.211,"v":125},{"s":"EW","t":0.213,"v":190},{"s":"EW","t":0.214,"v":140},{"s":"EW","t":0.216,"v":95},{"s":"EW","t":0.218,"v":165},{"s":"EW","t":0.219,"v":130},{"s":"EW","t":0.221,"v":210},{"s":"EW","t":0.223,"v":150},{"s":"EW","t":0.224,"v":115},{"s":"EW","t":0.226,"v":175},{"s":"EW","t":0.228,"v":140},{"s":"EW","t":0.229,"v":160},{"s":"EW","t":0.231,"v":105},{"s":"EW","t":0.233,"v":185},{"s":"EW","t":0.234,"v":145},{"s":"EW","t":0.236,"v":125},{"s":"EW","t":0.238,"v":170},{"s":"EW","t":0.239,"v":150},{"s":"EW","t":0.241,"v":195},{"s":"EW","t":0.243,"v":135},{"s":"EW","t":0.244,"v":160},{"s":"EW","t":0.246,"v":120},{"s":"EW","t":0.248,"v":180},{"s":"EW","t":0.249,"v":145},
      {"s":"EW","t":0.251,"v":160},{"s":"EW","t":0.253,"v":130},{"s":"EW","t":0.254,"v":200},{"s":"EW","t":0.256,"v":175},{"s":"EW","t":0.257,"v":145},{"s":"EW","t":0.259,"v":210},{"s":"EW","t":0.261,"v":165},{"s":"EW","t":0.262,"v":190},{"s":"EW","t":0.264,"v":120},{"s":"EW","t":0.266,"v":180},{"s":"EW","t":0.267,"v":155},{"s":"EW","t":0.269,"v":205},{"s":"EW","t":0.271,"v":140},{"s":"EW","t":0.272,"v":170},{"s":"EW","t":0.274,"v":190},
      {"s":"EW","t":0.276,"v":40},{"s":"EW","t":0.278,"v":95},{"s":"EW","t":0.279,"v":-10},{"s":"EW","t":0.281,"v":60},{"s":"EW","t":0.283,"v":120},{"s":"EW","t":0.284,"v":20},{"s":"EW","t":0.286,"v":85},{"s":"EW","t":0.288,"v":-20},{"s":"EW","t":0.289,"v":50},{"s":"EW","t":0.291,"v":110},{"s":"EW","t":0.293,"v":5},{"s":"EW","t":0.294,"v":75},{"s":"EW","t":0.296,"v":135},{"s":"EW","t":0.298,"v":30},{"s":"EW","t":0.299,"v":95},{"s":"EW","t":0.301,"v":-15},{"s":"EW","t":0.303,"v":60},{"s":"EW","t":0.304,"v":115},{"s":"EW","t":0.306,"v":40},{"s":"EW","t":0.308,"v":85},{"s":"EW","t":0.309,"v":-5},{"s":"EW","t":0.311,"v":70},{"s":"EW","t":0.313,"v":125},{"s":"EW","t":0.314,"v":25},{"s":"EW","t":0.316,"v":95},{"s":"EW","t":0.318,"v":55},{"s":"EW","t":0.319,"v":140},{"s":"EW","t":0.321,"v":10},{"s":"EW","t":0.323,"v":80},{"s":"EW","t":0.324,"v":115},{"s":"EW","t":0.326,"v":45},{"s":"EW","t":0.328,"v":100},{"s":"EW","t":0.329,"v":-10},{"s":"EW","t":0.331,"v":65},{"s":"EW","t":0.333,"v":130},{"s":"EW","t":0.334,"v":30},{"s":"EW","t":0.336,"v":90},{"s":"EW","t":0.338,"v":55},{"s":"EW","t":0.339,"v":120},{"s":"EW","t":0.341,"v":5},{"s":"EW","t":0.343,"v":75},{"s":"EW","t":0.344,"v":105},{"s":"EW","t":0.346,"v":40},{"s":"EW","t":0.348,"v":140},{"s":"EW","t":0.349,"v":85},{"s":"EW","t":0.351,"v":20},{"s":"EW","t":0.353,"v":110},{"s":"EW","t":0.354,"v":60},{"s":"EW","t":0.356,"v":130},{"s":"EW","t":0.358,"v":-15},{"s":"EW","t":0.359,"v":90},{"s":"EW","t":0.361,"v":50},{"s":"EW","t":0.363,"v":115},{"s":"EW","t":0.364,"v":75},{"s":"EW","t":0.366,"v":145},{"s":"EW","t":0.368,"v":30},{"s":"EW","t":0.369,"v":100},
      {"s":"EW","t":0.371,"v":65},{"s":"EW","t":0.373,"v":120},{"s":"EW","t":0.374,"v":15},{"s":"EW","t":0.376,"v":90},{"s":"EW","t":0.378,"v":150},{"s":"EW","t":0.379,"v":40},{"s":"EW","t":0.381,"v":105},{"s":"EW","t":0.383,"v":-10},{"s":"EW","t":0.384,"v":70},{"s":"EW","t":0.386,"v":135},{"s":"EW","t":0.388,"v":25},{"s":"EW","t":0.389,"v":95},{"s":"EW","t":0.391,"v":160},{"s":"EW","t":0.393,"v":55},{"s":"EW","t":0.394,"v":110},{"s":"EW","t":0.396,"v":-20},{"s":"EW","t":0.398,"v":80},{"s":"EW","t":0.399,"v":145},
      {"s":"EW","t":0.0015,"v":180},{"s":"EW","t":0.0035,"v":-5},{"s":"EW","t":0.0055,"v":85},{"s":"EW","t":0.0085,"v":150},{"s":"EW","t":0.0115,"v":30},{"s":"EW","t":0.0145,"v":125},{"s":"EW","t":0.0175,"v":65},{"s":"EW","t":0.0205,"v":175},{"s":"EW","t":0.0235,"v":20},{"s":"EW","t":0.0255,"v":105},{"s":"EW","t":0.0285,"v":145},{"s":"EW","t":0.0305,"v":40},{"s":"EW","t":0.0335,"v":95},{"s":"EW","t":0.0355,"v":160},{"s":"EW","t":0.0385,"v":55},{"s":"EW","t":0.0405,"v":130},{"s":"EW","t":0.0435,"v":0},{"s":"EW","t":0.0455,"v":110},{"s":"EW","t":0.0485,"v":185},{"s":"EW","t":0.0505,"v":70},{"s":"EW","t":0.0535,"v":140},{"s":"EW","t":0.0555,"v":25},{"s":"EW","t":0.0585,"v":100},{"s":"EW","t":0.0605,"v":170},{"s":"EW","t":0.0635,"v":45},{"s":"EW","t":0.0655,"v":120},{"s":"EW","t":0.0685,"v":80},{"s":"EW","t":0.0705,"v":155},{"s":"EW","t":0.0735,"v":15},{"s":"EW","t":0.0755,"v":105},{"s":"EW","t":0.0785,"v":130},{"s":"EW","t":0.0805,"v":65},{"s":"EW","t":0.0835,"v":180},{"s":"EW","t":0.0855,"v":50},{"s":"EW","t":0.0885,"v":115},{"s":"EW","t":0.0905,"v":-10},{"s":"EW","t":0.0935,"v":90},{"s":"EW","t":0.0955,"v":160},{"s":"EW","t":0.0985,"v":35},
      {"s":"EW","t":0.1005,"v":125},{"s":"EW","t":0.1035,"v":75},{"s":"EW","t":0.1065,"v":150},{"s":"EW","t":0.1095,"v":40},{"s":"EW","t":0.1125,"v":105},{"s":"EW","t":0.1155,"v":170},{"s":"EW","t":0.1185,"v":15},{"s":"EW","t":0.1215,"v":90},{"s":"EW","t":0.1245,"v":135},{"s":"EW","t":0.1275,"v":55},{"s":"EW","t":0.1305,"v":115},{"s":"EW","t":0.1335,"v":-10},{"s":"EW","t":0.1365,"v":145},{"s":"EW","t":0.1395,"v":100},{"s":"EW","t":0.1425,"v":60},{"s":"EW","t":0.1455,"v":130},{"s":"EW","t":0.1485,"v":175},{"s":"EW","t":0.1515,"v":30},{"s":"EW","t":0.1545,"v":110},{"s":"EW","t":0.1575,"v":80},{"s":"EW","t":0.1605,"v":150},{"s":"EW","t":0.1635,"v":40},{"s":"EW","t":0.1665,"v":125},{"s":"EW","t":0.1695,"v":160},
      {"s":"EW","t":0.1715,"v":105},{"s":"EW","t":0.1745,"v":185},{"s":"EW","t":0.1775,"v":140},{"s":"EW","t":0.1805,"v":120},{"s":"EW","t":0.1835,"v":165},{"s":"EW","t":0.1865,"v":95},{"s":"EW","t":0.1895,"v":155},{"s":"EW","t":0.1925,"v":135},{"s":"EW","t":0.1955,"v":175},{"s":"EW","t":0.1985,"v":115},{"s":"EW","t":0.2015,"v":145},{"s":"EW","t":0.2045,"v":125},{"s":"EW","t":0.2075,"v":190},{"s":"EW","t":0.2105,"v":155},{"s":"EW","t":0.2135,"v":110},{"s":"EW","t":0.2165,"v":145},{"s":"EW","t":0.2195,"v":175},{"s":"EW","t":0.2225,"v":130},{"s":"EW","t":0.2255,"v":160},{"s":"EW","t":0.2285,"v":200},{"s":"EW","t":0.2315,"v":140},{"s":"EW","t":0.2345,"v":170},{"s":"EW","t":0.2375,"v":120},{"s":"EW","t":0.2405,"v":155},{"s":"EW","t":0.2435,"v":185},{"s":"EW","t":0.2465,"v":140},{"s":"EW","t":0.2495,"v":200},
      {"s":"EW","t":0.2515,"v":175},{"s":"EW","t":0.2545,"v":150},{"s":"EW","t":0.2575,"v":185},{"s":"EW","t":0.2605,"v":135},{"s":"EW","t":0.2635,"v":170},{"s":"EW","t":0.2665,"v":200},{"s":"EW","t":0.2695,"v":160},{"s":"EW","t":0.2725,"v":185},{"s":"EW","t":0.2745,"v":145},
      {"s":"EW","t":0.2775,"v":70},{"s":"EW","t":0.2805,"v":115},{"s":"EW","t":0.2835,"v":-15},{"s":"EW","t":0.2865,"v":40},{"s":"EW","t":0.2895,"v":95},{"s":"EW","t":0.2925,"v":140},{"s":"EW","t":0.2955,"v":15},{"s":"EW","t":0.2985,"v":60},{"s":"EW","t":0.3015,"v":105},{"s":"EW","t":0.3045,"v":-5},{"s":"EW","t":0.3075,"v":130},{"s":"EW","t":0.3105,"v":45},{"s":"EW","t":0.3135,"v":90},{"s":"EW","t":0.3165,"v":0},{"s":"EW","t":0.3195,"v":75},{"s":"EW","t":0.3225,"v":120},{"s":"EW","t":0.3255,"v":20},{"s":"EW","t":0.3285,"v":60},{"s":"EW","t":0.3315,"v":105},{"s":"EW","t":0.3345,"v":145},{"s":"EW","t":0.3375,"v":15},{"s":"EW","t":0.3405,"v":80},{"s":"EW","t":0.3435,"v":125},{"s":"EW","t":0.3465,"v":60},{"s":"EW","t":0.3495,"v":100},{"s":"EW","t":0.3525,"v":-10},{"s":"EW","t":0.3555,"v":85},{"s":"EW","t":0.3585,"v":135},{"s":"EW","t":0.3615,"v":20},{"s":"EW","t":0.3645,"v":95},{"s":"EW","t":0.3675,"v":60},
      {"s":"EW","t":0.3705,"v":140},{"s":"EW","t":0.3725,"v":35},{"s":"EW","t":0.3755,"v":110},{"s":"EW","t":0.3785,"v":75},{"s":"EW","t":0.3815,"v":130},{"s":"EW","t":0.3845,"v":15},{"s":"EW","t":0.3875,"v":95},{"s":"EW","t":0.3905,"v":55},{"s":"EW","t":0.3935,"v":140},{"s":"EW","t":0.3965,"v":100},{"s":"EW","t":0.3995,"v":10}
    ],
    "fw": [
      {"s":"FW","t":0.001,"v":70},{"s":"FW","t":0.003,"v":45},{"s":"FW","t":0.004,"v":95},{"s":"FW","t":0.006,"v":20},{"s":"FW","t":0.008,"v":65},{"s":"FW","t":0.009,"v":110},{"s":"FW","t":0.011,"v":40},{"s":"FW","t":0.013,"v":80},{"s":"FW","t":0.014,"v":55},{"s":"FW","t":0.016,"v":100},{"s":"FW","t":0.018,"v":30},{"s":"FW","t":0.019,"v":70},{"s":"FW","t":0.021,"v":90},{"s":"FW","t":0.023,"v":15},{"s":"FW","t":0.024,"v":60},{"s":"FW","t":0.026,"v":105},{"s":"FW","t":0.028,"v":45},{"s":"FW","t":0.029,"v":80},{"s":"FW","t":0.031,"v":25},{"s":"FW","t":0.033,"v":65},{"s":"FW","t":0.034,"v":95},{"s":"FW","t":0.036,"v":50},{"s":"FW","t":0.038,"v":75},{"s":"FW","t":0.039,"v":110},{"s":"FW","t":0.041,"v":35},{"s":"FW","t":0.043,"v":85},{"s":"FW","t":0.044,"v":60},{"s":"FW","t":0.046,"v":20},{"s":"FW","t":0.048,"v":90},{"s":"FW","t":0.049,"v":55},{"s":"FW","t":0.051,"v":70},{"s":"FW","t":0.053,"v":105},{"s":"FW","t":0.054,"v":40},{"s":"FW","t":0.056,"v":80},{"s":"FW","t":0.058,"v":10},{"s":"FW","t":0.059,"v":65},{"s":"FW","t":0.061,"v":95},{"s":"FW","t":0.063,"v":45},{"s":"FW","t":0.064,"v":75},{"s":"FW","t":0.066,"v":115},{"s":"FW","t":0.068,"v":30},{"s":"FW","t":0.069,"v":85},{"s":"FW","t":0.071,"v":55},{"s":"FW","t":0.073,"v":100},{"s":"FW","t":0.074,"v":20},{"s":"FW","t":0.076,"v":70},{"s":"FW","t":0.078,"v":90},{"s":"FW","t":0.079,"v":45},{"s":"FW","t":0.081,"v":110},{"s":"FW","t":0.083,"v":60},{"s":"FW","t":0.084,"v":80},{"s":"FW","t":0.086,"v":25},{"s":"FW","t":0.088,"v":95},{"s":"FW","t":0.089,"v":50},{"s":"FW","t":0.091,"v":75},{"s":"FW","t":0.093,"v":105},{"s":"FW","t":0.094,"v":35},{"s":"FW","t":0.096,"v":85},{"s":"FW","t":0.098,"v":60},{"s":"FW","t":0.099,"v":120},
      {"s":"FW","t":0.101,"v":65},{"s":"FW","t":0.103,"v":90},{"s":"FW","t":0.104,"v":30},{"s":"FW","t":0.106,"v":110},{"s":"FW","t":0.108,"v":70},{"s":"FW","t":0.109,"v":50},{"s":"FW","t":0.111,"v":95},{"s":"FW","t":0.113,"v":125},{"s":"FW","t":0.114,"v":40},{"s":"FW","t":0.116,"v":80},{"s":"FW","t":0.118,"v":105},{"s":"FW","t":0.119,"v":60},{"s":"FW","t":0.121,"v":20},{"s":"FW","t":0.123,"v":90},{"s":"FW","t":0.124,"v":115},{"s":"FW","t":0.126,"v":70},{"s":"FW","t":0.128,"v":45},{"s":"FW","t":0.129,"v":100},{"s":"FW","t":0.131,"v":80},{"s":"FW","t":0.133,"v":130},{"s":"FW","t":0.134,"v":55},{"s":"FW","t":0.136,"v":95},{"s":"FW","t":0.138,"v":75},{"s":"FW","t":0.139,"v":110},{"s":"FW","t":0.141,"v":35},{"s":"FW","t":0.143,"v":85},{"s":"FW","t":0.144,"v":120},{"s":"FW","t":0.146,"v":65},{"s":"FW","t":0.148,"v":100},{"s":"FW","t":0.149,"v":90},{"s":"FW","t":0.151,"v":135},{"s":"FW","t":0.153,"v":50},{"s":"FW","t":0.154,"v":110},{"s":"FW","t":0.156,"v":80},{"s":"FW","t":0.158,"v":125},{"s":"FW","t":0.159,"v":95},{"s":"FW","t":0.161,"v":60},{"s":"FW","t":0.163,"v":115},{"s":"FW","t":0.164,"v":140},{"s":"FW","t":0.166,"v":85},{"s":"FW","t":0.168,"v":105},{"s":"FW","t":0.169,"v":70},{"s":"FW","t":0.171,"v":130},{"s":"FW","t":0.173,"v":95},{"s":"FW","t":0.174,"v":150},{"s":"FW","t":0.176,"v":110},{"s":"FW","t":0.178,"v":80},{"s":"FW","t":0.179,"v":125},
      {"s":"FW","t":0.181,"v":100},{"s":"FW","t":0.183,"v":145},{"s":"FW","t":0.184,"v":120},{"s":"FW","t":0.186,"v":85},{"s":"FW","t":0.188,"v":160},{"s":"FW","t":0.189,"v":130},{"s":"FW","t":0.191,"v":105},{"s":"FW","t":0.193,"v":150},{"s":"FW","t":0.194,"v":115},{"s":"FW","t":0.196,"v":170},{"s":"FW","t":0.198,"v":135},{"s":"FW","t":0.199,"v":95},{"s":"FW","t":0.201,"v":155},{"s":"FW","t":0.203,"v":125},{"s":"FW","t":0.204,"v":180},{"s":"FW","t":0.206,"v":140},{"s":"FW","t":0.208,"v":110},{"s":"FW","t":0.209,"v":165},{"s":"FW","t":0.211,"v":130},{"s":"FW","t":0.213,"v":150},{"s":"FW","t":0.214,"v":100},{"s":"FW","t":0.216,"v":175},{"s":"FW","t":0.218,"v":140},{"s":"FW","t":0.219,"v":120},{"s":"FW","t":0.221,"v":160},{"s":"FW","t":0.223,"v":185},{"s":"FW","t":0.224,"v":135},{"s":"FW","t":0.226,"v":115},{"s":"FW","t":0.228,"v":170},{"s":"FW","t":0.229,"v":150},{"s":"FW","t":0.231,"v":125},{"s":"FW","t":0.233,"v":190},{"s":"FW","t":0.234,"v":145},{"s":"FW","t":0.236,"v":165},{"s":"FW","t":0.238,"v":110},{"s":"FW","t":0.239,"v":180},{"s":"FW","t":0.241,"v":150},{"s":"FW","t":0.243,"v":130},{"s":"FW","t":0.244,"v":195},{"s":"FW","t":0.246,"v":160},{"s":"FW","t":0.248,"v":140},{"s":"FW","t":0.249,"v":175},
      {"s":"FW","t":0.250,"v":150},{"s":"FW","t":0.251,"v":185},{"s":"FW","t":0.252,"v":135},{"s":"FW","t":0.253,"v":205},{"s":"FW","t":0.254,"v":298},
      {"s":"FW","t":0.255,"v":15},{"s":"FW","t":0.257,"v":-10},{"s":"FW","t":0.258,"v":30},{"s":"FW","t":0.260,"v":5},{"s":"FW","t":0.262,"v":-18},{"s":"FW","t":0.263,"v":20},{"s":"FW","t":0.265,"v":45},{"s":"FW","t":0.267,"v":-5},{"s":"FW","t":0.268,"v":10},{"s":"FW","t":0.270,"v":35},{"s":"FW","t":0.272,"v":-15},{"s":"FW","t":0.273,"v":25},{"s":"FW","t":0.275,"v":0},{"s":"FW","t":0.277,"v":50},{"s":"FW","t":0.278,"v":15},{"s":"FW","t":0.280,"v":-12},{"s":"FW","t":0.282,"v":30},{"s":"FW","t":0.283,"v":55},{"s":"FW","t":0.285,"v":10},{"s":"FW","t":0.287,"v":40},{"s":"FW","t":0.288,"v":-5},{"s":"FW","t":0.290,"v":65},
      {"s":"FW","t":0.292,"v":30},{"s":"FW","t":0.293,"v":85},{"s":"FW","t":0.295,"v":50},{"s":"FW","t":0.297,"v":105},{"s":"FW","t":0.298,"v":20},{"s":"FW","t":0.300,"v":75},{"s":"FW","t":0.302,"v":120},{"s":"FW","t":0.303,"v":45},{"s":"FW","t":0.305,"v":95},{"s":"FW","t":0.307,"v":60},{"s":"FW","t":0.308,"v":130},{"s":"FW","t":0.310,"v":85},{"s":"FW","t":0.312,"v":40},{"s":"FW","t":0.313,"v":110},{"s":"FW","t":0.315,"v":145},{"s":"FW","t":0.317,"v":70},{"s":"FW","t":0.318,"v":100},{"s":"FW","t":0.320,"v":160},{"s":"FW","t":0.322,"v":90},{"s":"FW","t":0.323,"v":125},{"s":"FW","t":0.325,"v":65},{"s":"FW","t":0.327,"v":150},{"s":"FW","t":0.328,"v":110},{"s":"FW","t":0.330,"v":175},
      {"s":"FW","t":0.332,"v":130},{"s":"FW","t":0.333,"v":95},{"s":"FW","t":0.335,"v":165},{"s":"FW","t":0.337,"v":140},{"s":"FW","t":0.338,"v":195},{"s":"FW","t":0.340,"v":115},{"s":"FW","t":0.342,"v":170},{"s":"FW","t":0.343,"v":150},{"s":"FW","t":0.345,"v":210},{"s":"FW","t":0.347,"v":125},{"s":"FW","t":0.348,"v":180},{"s":"FW","t":0.350,"v":155},{"s":"FW","t":0.352,"v":200},{"s":"FW","t":0.353,"v":105},{"s":"FW","t":0.355,"v":165},{"s":"FW","t":0.357,"v":220},{"s":"FW","t":0.358,"v":140},{"s":"FW","t":0.360,"v":185},{"s":"FW","t":0.362,"v":160},{"s":"FW","t":0.363,"v":205},{"s":"FW","t":0.365,"v":130},{"s":"FW","t":0.367,"v":190},{"s":"FW","t":0.368,"v":170},{"s":"FW","t":0.369,"v":216},{"s":"FW","t":0.3695,"v":242},{"s":"FW","t":0.370,"v":322},{"s":"FW","t":0.3702,"v":379},{"s":"FW","t":0.3705,"v":393},
      {"s":"FW","t":0.372,"v":45},{"s":"FW","t":0.374,"v":10},{"s":"FW","t":0.375,"v":70},{"s":"FW","t":0.377,"v":25},{"s":"FW","t":0.379,"v":-10},{"s":"FW","t":0.380,"v":55},{"s":"FW","t":0.382,"v":35},{"s":"FW","t":0.384,"v":85},{"s":"FW","t":0.385,"v":5},{"s":"FW","t":0.387,"v":60},{"s":"FW","t":0.389,"v":40},{"s":"FW","t":0.390,"v":-15},{"s":"FW","t":0.392,"v":75},{"s":"FW","t":0.394,"v":30},{"s":"FW","t":0.395,"v":50},{"s":"FW","t":0.397,"v":15},{"s":"FW","t":0.398,"v":65},{"s":"FW","t":0.400,"v":40},
      {"s":"FW","t":0.002,"v":85},{"s":"FW","t":0.005,"v":40},{"s":"FW","t":0.0075,"v":100},{"s":"FW","t":0.010,"v":60},{"s":"FW","t":0.0125,"v":20},{"s":"FW","t":0.015,"v":75},{"s":"FW","t":0.0175,"v":110},{"s":"FW","t":0.020,"v":50},{"s":"FW","t":0.0225,"v":85},{"s":"FW","t":0.025,"v":35},{"s":"FW","t":0.0275,"v":95},{"s":"FW","t":0.030,"v":60},{"s":"FW","t":0.0325,"v":115},{"s":"FW","t":0.035,"v":75},{"s":"FW","t":0.0375,"v":40},{"s":"FW","t":0.040,"v":90},{"s":"FW","t":0.0425,"v":65},{"s":"FW","t":0.045,"v":105},{"s":"FW","t":0.0475,"v":30},{"s":"FW","t":0.050,"v":80},{"s":"FW","t":0.0525,"v":60},{"s":"FW","t":0.055,"v":95},{"s":"FW","t":0.0575,"v":45},{"s":"FW","t":0.060,"v":85},{"s":"FW","t":0.0625,"v":115},{"s":"FW","t":0.065,"v":50},{"s":"FW","t":0.0675,"v":70},{"s":"FW","t":0.070,"v":100},{"s":"FW","t":0.0725,"v":40},{"s":"FW","t":0.075,"v":90},{"s":"FW","t":0.0775,"v":60},{"s":"FW","t":0.080,"v":20},{"s":"FW","t":0.0825,"v":75},{"s":"FW","t":0.085,"v":100},{"s":"FW","t":0.0875,"v":40},{"s":"FW","t":0.090,"v":90},{"s":"FW","t":0.0925,"v":65},{"s":"FW","t":0.095,"v":110},{"s":"FW","t":0.0975,"v":80},
      {"s":"FW","t":0.1005,"v":95},{"s":"FW","t":0.1025,"v":45},{"s":"FW","t":0.105,"v":80},{"s":"FW","t":0.1075,"v":120},{"s":"FW","t":0.110,"v":60},{"s":"FW","t":0.1125,"v":85},{"s":"FW","t":0.115,"v":100},{"s":"FW","t":0.1175,"v":35},{"s":"FW","t":0.120,"v":75},{"s":"FW","t":0.1225,"v":110},{"s":"FW","t":0.125,"v":90},{"s":"FW","t":0.1275,"v":60},{"s":"FW","t":0.130,"v":115},{"s":"FW","t":0.1325,"v":85},{"s":"FW","t":0.135,"v":40},{"s":"FW","t":0.1375,"v":100},{"s":"FW","t":0.140,"v":70},{"s":"FW","t":0.1425,"v":125},{"s":"FW","t":0.145,"v":95},{"s":"FW","t":0.1475,"v":55},{"s":"FW","t":0.150,"v":110},{"s":"FW","t":0.1525,"v":75},{"s":"FW","t":0.155,"v":130},{"s":"FW","t":0.1575,"v":100},{"s":"FW","t":0.160,"v":70},{"s":"FW","t":0.1625,"v":120},{"s":"FW","t":0.165,"v":95},{"s":"FW","t":0.1675,"v":135},{"s":"FW","t":0.170,"v":110},{"s":"FW","t":0.1725,"v":80},{"s":"FW","t":0.175,"v":125},{"s":"FW","t":0.1775,"v":100},{"s":"FW","t":0.180,"v":140},
      {"s":"FW","t":0.1825,"v":115},{"s":"FW","t":0.185,"v":160},{"s":"FW","t":0.1875,"v":135},{"s":"FW","t":0.190,"v":175},{"s":"FW","t":0.1925,"v":120},{"s":"FW","t":0.195,"v":150},{"s":"FW","t":0.1975,"v":110},{"s":"FW","t":0.200,"v":165},{"s":"FW","t":0.2025,"v":140},{"s":"FW","t":0.205,"v":120},{"s":"FW","t":0.2075,"v":185},{"s":"FW","t":0.210,"v":150},{"s":"FW","t":0.2125,"v":120},{"s":"FW","t":0.215,"v":160},{"s":"FW","t":0.2175,"v":130},{"s":"FW","t":0.220,"v":175},{"s":"FW","t":0.2225,"v":145},{"s":"FW","t":0.225,"v":165},{"s":"FW","t":0.2275,"v":125},{"s":"FW","t":0.230,"v":180},{"s":"FW","t":0.2325,"v":155},{"s":"FW","t":0.235,"v":135},{"s":"FW","t":0.2375,"v":190},{"s":"FW","t":0.240,"v":160},{"s":"FW","t":0.2425,"v":175},{"s":"FW","t":0.245,"v":145},{"s":"FW","t":0.2475,"v":200},
      {"s":"FW","t":0.256,"v":40},{"s":"FW","t":0.2585,"v":0},{"s":"FW","t":0.261,"v":25},{"s":"FW","t":0.2635,"v":-8},{"s":"FW","t":0.266,"v":30},{"s":"FW","t":0.2685,"v":55},{"s":"FW","t":0.271,"v":5},{"s":"FW","t":0.2735,"v":40},{"s":"FW","t":0.276,"v":20},{"s":"FW","t":0.2785,"v":-5},{"s":"FW","t":0.281,"v":45},{"s":"FW","t":0.2835,"v":20},{"s":"FW","t":0.286,"v":0},{"s":"FW","t":0.2885,"v":35},
      {"s":"FW","t":0.2905,"v":90},{"s":"FW","t":0.2935,"v":60},{"s":"FW","t":0.2965,"v":25},{"s":"FW","t":0.2995,"v":100},{"s":"FW","t":0.3025,"v":70},{"s":"FW","t":0.3055,"v":130},{"s":"FW","t":0.3085,"v":55},{"s":"FW","t":0.3115,"v":100},{"s":"FW","t":0.3145,"v":85},{"s":"FW","t":0.3175,"v":135},{"s":"FW","t":0.3205,"v":110},{"s":"FW","t":0.3235,"v":75},{"s":"FW","t":0.3265,"v":140},{"s":"FW","t":0.3295,"v":125},
      {"s":"FW","t":0.3315,"v":160},{"s":"FW","t":0.3345,"v":185},{"s":"FW","t":0.3375,"v":120},{"s":"FW","t":0.3405,"v":200},{"s":"FW","t":0.3435,"v":135},{"s":"FW","t":0.3465,"v":175},{"s":"FW","t":0.3495,"v":190},{"s":"FW","t":0.3525,"v":145},{"s":"FW","t":0.3555,"v":210},{"s":"FW","t":0.3585,"v":170},{"s":"FW","t":0.3615,"v":125},{"s":"FW","t":0.3645,"v":180},{"s":"FW","t":0.3675,"v":150},{"s":"FW","t":0.3685,"v":200},
      {"s":"FW","t":0.373,"v":65},{"s":"FW","t":0.3765,"v":40},{"s":"FW","t":0.378,"v":85},{"s":"FW","t":0.381,"v":15},{"s":"FW","t":0.3835,"v":55},{"s":"FW","t":0.386,"v":30},{"s":"FW","t":0.388,"v":75},{"s":"FW","t":0.391,"v":45},{"s":"FW","t":0.3935,"v":-5},{"s":"FW","t":0.396,"v":60},{"s":"FW","t":0.399,"v":25}
    ]
  },
  "encoding": {
    "x": {
      "field": "t",
      "type": "quantitative",
      "scale": {"domain": [0, 0.4], "nice": false, "zero": false},
      "axis": {
        "values": [0,0.01,0.02,0.03,0.04,0.05,0.06,0.07,0.08,0.09,0.1,0.11,0.12,0.13,0.14,0.15,0.16,0.17,0.18,0.19,0.2,0.21,0.22,0.23,0.24,0.25,0.26,0.27,0.28,0.29,0.3,0.31,0.32,0.33,0.34,0.35,0.36,0.37,0.38,0.39,0.4],
        "labelExpr": "abs(datum.value * 20 - round(datum.value * 20)) < 0.001 ? format(datum.value, '.2f') : ''",
        "grid": false,
        "tickSize": 6,
        "labelPadding": 12,
        "title": "Time (hr)",
        "titleFont": "DejaVu Sans",
        "titleFontSize": 20,
        "titleFontWeight": "bold",
        "titlePadding": 31
      }
    },
    "color": {
      "field": "s",
      "type": "nominal",
      "scale": {
        "domain": ["EC", "FC", "EP", "FP", "EW", "FW"],
        "range": ["#1717c4", "#38c4ee", "#ee1414", "#f5a015", "#33d433", "#1e6b1e"]
      },
      "legend": {
        "title": null,
        "labelExpr": "datum.label == 'EC' ? 'Blend E Conductivity' : datum.label == 'FC' ? 'Blend F Conductivity' : datum.label == 'EP' ? 'Blend E Mud Pressure' : datum.label == 'FP' ? 'Blend F Mud Pressure' : datum.label == 'EW' ? 'Blend E Fracture Width' : 'Blend F Fracture Width'"
      }
    },
    "shape": {
      "field": "s",
      "type": "nominal",
      "scale": {
        "domain": ["EC", "FC", "EP", "FP", "EW", "FW"],
        "range": ["triangle-up", "diamond", "square", "square", "square", "square"]
      },
      "legend": {
        "title": null,
        "labelExpr": "datum.label == 'EC' ? 'Blend E Conductivity' : datum.label == 'FC' ? 'Blend F Conductivity' : datum.label == 'EP' ? 'Blend E Mud Pressure' : datum.label == 'FP' ? 'Blend F Mud Pressure' : datum.label == 'EW' ? 'Blend E Fracture Width' : 'Blend F Fracture Width'"
      }
    }
  },
  "layer": [
    {
      "encoding": {
        "y": {
          "field": "v",
          "type": "quantitative",
          "scale": {"domain": [0, 1300], "nice": false},
          "axis": {
            "orient": "left",
            "values": [0,100,200,300,400,500,600,700,800,900,1000,1100,1200,1300],
            "format": "d",
            "grid": true,
            "gridColor": "#3a3a3a",
            "gridWidth": 1.5,
            "tickSize": 8,
            "labelPadding": 3,
            "title": ["Mud Pressure (psig)", "Conductivity (mL x 100)"],
            "titleFont": "Liberation Sans",
            "titleFontSize": 23,
            "titleFontWeight": "bold",
            "titleLineHeight": 26,
            "titlePadding": 18
          }
        }
      },
      "layer": [
        {
          "data": {"name": "ec"},
          "mark": {"type": "point", "filled": false, "size": 42, "strokeWidth": 1.2, "opacity": 1}
        },
        {
          "data": {"name": "fc"},
          "mark": {"type": "point", "filled": false, "size": 60, "strokeWidth": 1.2, "opacity": 1}
        },
        {
          "data": {"name": "ep"},
          "mark": {"type": "line", "strokeWidth": 6, "color": "#ee1414"},
          "encoding": {"detail": {"field": "g", "type": "nominal"}, "color": {"value": "#ee1414"}, "shape": null}
        },
        {
          "data": {"name": "ep"},
          "mark": {"type": "point", "filled": false, "size": 26, "strokeWidth": 1.5, "opacity": 1}
        },
        {
          "data": {"name": "fp"},
          "mark": {"type": "line", "strokeWidth": 6, "color": "#f5a015"},
          "encoding": {"detail": {"field": "g", "type": "nominal"}, "color": {"value": "#f5a015"}, "shape": null}
        },
        {
          "data": {"name": "fp"},
          "mark": {"type": "point", "filled": false, "size": 26, "strokeWidth": 1.5, "opacity": 1}
        }
      ]
    },
    {
      "encoding": {
        "y": {
          "field": "v",
          "type": "quantitative",
          "scale": {"domain": [-25, 500], "nice": false, "zero": false},
          "axis": {
            "orient": "right",
            "values": [-25,0,25,50,75,100,125,150,175,200,225,250,275,300,325,350,375,400,425,450,475,500],
            "grid": false,
            "tickSize": 8,
            "labelPadding": 9,
            "labelFontSize": 23,
            "labelExpr": "datum.value < 0 ? '(' + format(-datum.value, 'd') + ')' : datum.label",
            "labelColor": {"condition": {"test": "datum.value < 0", "value": "#e61e1e"}, "value": "black"},
            "title": "Δ Fracture Width (µm)",
            "titleAngle": 90,
            "titleFont": "Liberation Sans",
            "titleFontSize": 25,
            "titleFontWeight": "bold",
            "titlePadding": 6
          }
        }
      },
      "layer": [
        {
          "data": {"name": "ew"},
          "mark": {"type": "point", "filled": false, "size": 28, "strokeWidth": 1, "opacity": 1}
        },
        {
          "data": {"name": "fw"},
          "mark": {"type": "point", "filled": false, "size": 28, "strokeWidth": 1, "opacity": 1}
        }
      ]
    }
  ],
  "resolve": {"scale": {"y": "independent"}}
}
